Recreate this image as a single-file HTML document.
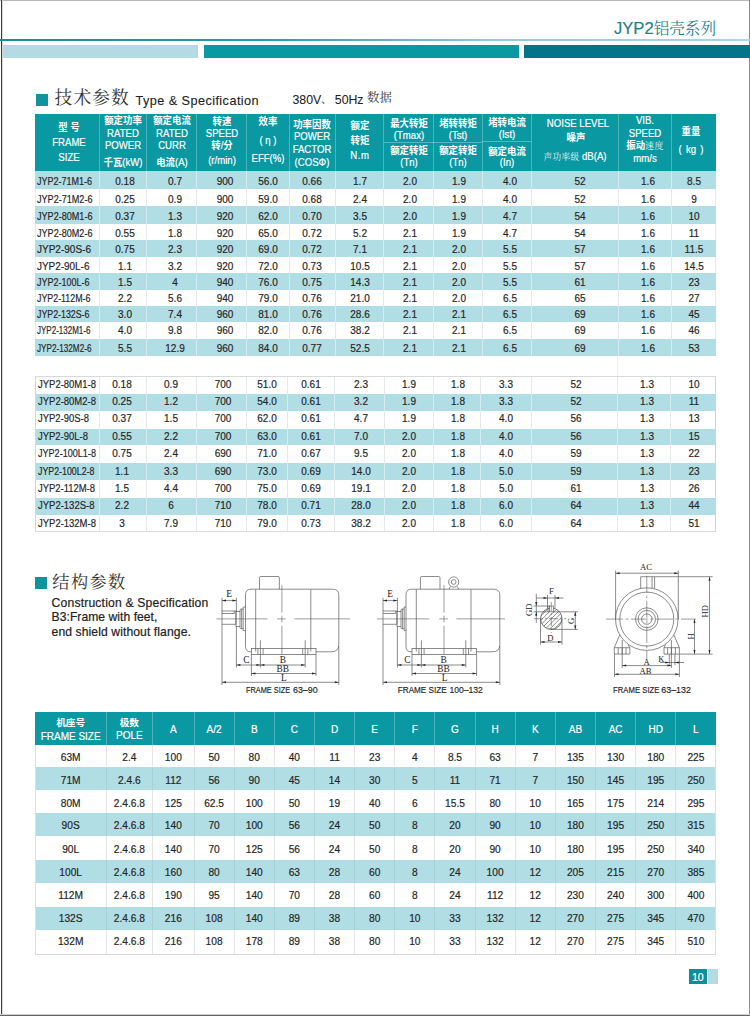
<!DOCTYPE html><html lang="zh"><head><meta charset="utf-8"><title>JYP2 Type &amp; Specification</title><style>
html,body{margin:0;padding:0;background:#fff}
body{width:750px;height:1016px;position:relative;overflow:hidden;font-family:"Liberation Sans",sans-serif}
.a{position:absolute}
.t{text-align:center;white-space:nowrap;-webkit-text-stroke:.18px currentColor}
.l{white-space:nowrap;-webkit-text-stroke:.18px currentColor}
.cr{font-family:"Liberation Serif","Noto Serif CJK SC",serif;font-weight:normal;white-space:nowrap;-webkit-text-stroke:0}
.cb{font-family:"Liberation Sans","Noto Sans CJK SC",sans-serif;font-weight:bold;font-size:10px;white-space:nowrap;-webkit-text-stroke:0}
.dg{fill:none;stroke:#5a5a5a;stroke-width:.7}
.dg .c{stroke-width:.6}
.dg .d{stroke-width:.6;stroke-dasharray:17 2.5 3 2.5}
.dg .d2{stroke-width:.6;stroke-dasharray:9 2 2 2}
.dg .f{fill:#262626;stroke:none}
.dg text{stroke:none;fill:#222}
.dg .se{font-family:"Liberation Serif",serif}
.dg .sa{font-family:"Liberation Sans",sans-serif;fill:#222;stroke:#222;stroke-width:.15}
</style></head><body>
<div class="a" style="left:0px;top:0px;width:750px;height:1px;background:#b8b8b8;"></div>
<div class="a" style="left:1px;top:0px;width:1px;height:1016px;background:#3c3c3c;"></div>
<div class="a" style="left:2px;top:0px;width:1px;height:1016px;background:#d9d9d9;"></div>
<div class="a" style="left:749px;top:0px;width:1px;height:1016px;background:#8a8a8a;"></div>
<div class="a" style="left:0px;top:1015px;width:750px;height:1px;background:#666;"></div>
<div class="a" style="left:0px;top:1014px;width:750px;height:1px;background:#d0d0d0;"></div>
<div class="a" style="left:0px;top:39px;width:750px;height:2px;background:linear-gradient(90deg,#178e9a 0%,#2a9aa5 35%,#8fcbd3 65%,#aad8de 100%);"></div>
<div class="a" style="left:3px;top:45px;width:195px;height:13px;background:#b4dbe3;"></div>
<div class="a" style="left:204px;top:45px;width:315px;height:13px;background:#0a98a2;"></div>
<div class="a" style="left:524px;top:45px;width:226px;height:13px;background:#05738a;"></div>
<div class="a l" style="left:614px;top:17.86px;height:22px;line-height:22px;font-size:16.6px;color:#1d7f8c">JYP2<span class="cr" style="font-size:15.6px;color:#1d7f8c">铝壳系列</span></div>
<div class="a" style="left:35.7px;top:94.2px;width:12px;height:11.4px;background:#0f949e;"></div>
<div class="a" style="left:54.6px;top:89.7px"><span class="cr" style="display:block;font-size:17.7px;line-height:17.7px;letter-spacing:1.1px;color:#333">技术参数</span></div>
<div class="a l " style="left:135.50px;top:93.07px;height:17px;line-height:17px;font-size:12.7px;color:#222;letter-spacing:.43px;-webkit-text-stroke:.1px #222">Type &amp; Specification</div>
<div class="a l " style="left:292.50px;top:92.17px;height:16px;line-height:16px;font-size:12.3px;color:#222;-webkit-text-stroke:.06px #222">380V</div>
<div class="a" style="left:321.2px;top:94.5px"><span class="cr" style="display:block;font-size:10px;line-height:10px;color:#222">、</span></div>
<div class="a l " style="left:334.80px;top:92.17px;height:16px;line-height:16px;font-size:12.3px;color:#222;-webkit-text-stroke:.06px #222">50Hz</div>
<div class="a" style="left:367.1px;top:92.3px"><span class="cr" style="display:block;font-size:12.4px;line-height:12.4px;color:#3a3a3a">数据</span></div>
<div class="a" style="left:35.1px;top:114.3px;width:680.8px;height:56.7px;background:#0a98a2;"></div>
<div class="a" style="left:98.8px;top:114.3px;width:1px;height:56.7px;background:rgba(255,255,255,.28);"></div>
<div class="a" style="left:146.1px;top:114.3px;width:1px;height:56.7px;background:rgba(255,255,255,.28);"></div>
<div class="a" style="left:196.2px;top:114.3px;width:1px;height:56.7px;background:rgba(255,255,255,.28);"></div>
<div class="a" style="left:246.4px;top:114.3px;width:1px;height:56.7px;background:rgba(255,255,255,.28);"></div>
<div class="a" style="left:288.8px;top:114.3px;width:1px;height:56.7px;background:rgba(255,255,255,.28);"></div>
<div class="a" style="left:334.9px;top:114.3px;width:1px;height:56.7px;background:rgba(255,255,255,.28);"></div>
<div class="a" style="left:383.3px;top:114.3px;width:1px;height:56.7px;background:rgba(255,255,255,.28);"></div>
<div class="a" style="left:432.8px;top:114.3px;width:1px;height:56.7px;background:rgba(255,255,255,.28);"></div>
<div class="a" style="left:481.5px;top:114.3px;width:1px;height:56.7px;background:rgba(255,255,255,.28);"></div>
<div class="a" style="left:530.9px;top:114.3px;width:1px;height:56.7px;background:rgba(255,255,255,.28);"></div>
<div class="a" style="left:617.7px;top:114.3px;width:1px;height:56.7px;background:rgba(255,255,255,.28);"></div>
<div class="a" style="left:670.5px;top:114.3px;width:1px;height:56.7px;background:rgba(255,255,255,.28);"></div>
<div class="a" style="left:383.8px;top:142px;width:98.19999999999999px;height:1px;background:rgba(255,255,255,.30);"></div>
<div class="a" style="left:482px;top:141px;width:49.39999999999998px;height:1px;background:rgba(255,255,255,.30);"></div>
<div class="a t " style="left:8.70px;top:121.47px;width:120px;height:13px;line-height:13px;font-size:10.2px;color:#fff;transform:scaleX(0.94);"><span class="cb">型 号</span></div>
<div class="a t " style="left:8.50px;top:136.07px;width:120px;height:13px;line-height:13px;font-size:10.2px;color:#fff;transform:scaleX(0.94);">FRAME</div>
<div class="a t " style="left:8.50px;top:151.07px;width:120px;height:13px;line-height:13px;font-size:10.2px;color:#fff;transform:scaleX(0.94);">SIZE</div>
<div class="a t " style="left:62.95px;top:114.27px;width:120px;height:13px;line-height:13px;font-size:10.2px;color:#fff;transform:scaleX(0.94);"><span class="cb">额定功率</span></div>
<div class="a t " style="left:62.95px;top:126.57px;width:120px;height:13px;line-height:13px;font-size:10.2px;color:#fff;transform:scaleX(0.94);">RATED</div>
<div class="a t " style="left:62.95px;top:138.97px;width:120px;height:13px;line-height:13px;font-size:10.2px;color:#fff;transform:scaleX(0.94);">POWER</div>
<div class="a t " style="left:62.95px;top:155.67px;width:120px;height:13px;line-height:13px;font-size:10.2px;color:#fff;transform:scaleX(0.94);"><span class="cb">千瓦</span>(kW)</div>
<div class="a t " style="left:111.65px;top:114.27px;width:120px;height:13px;line-height:13px;font-size:10.2px;color:#fff;transform:scaleX(0.94);"><span class="cb">额定电流</span></div>
<div class="a t " style="left:111.65px;top:126.57px;width:120px;height:13px;line-height:13px;font-size:10.2px;color:#fff;transform:scaleX(0.94);">RATED</div>
<div class="a t " style="left:111.65px;top:138.97px;width:120px;height:13px;line-height:13px;font-size:10.2px;color:#fff;transform:scaleX(0.94);">CURR</div>
<div class="a t " style="left:111.65px;top:155.67px;width:120px;height:13px;line-height:13px;font-size:10.2px;color:#fff;transform:scaleX(0.94);"><span class="cb">电流</span>(A)</div>
<div class="a t " style="left:161.80px;top:114.77px;width:120px;height:13px;line-height:13px;font-size:10.2px;color:#fff;transform:scaleX(0.94);"><span class="cb">转速</span></div>
<div class="a t " style="left:161.80px;top:126.97px;width:120px;height:13px;line-height:13px;font-size:10.2px;color:#fff;transform:scaleX(0.94);">SPEED</div>
<div class="a t " style="left:161.80px;top:139.07px;width:120px;height:13px;line-height:13px;font-size:10.2px;color:#fff;transform:scaleX(0.94);"><span class="cb">转</span>/<span class="cb">分</span></div>
<div class="a t " style="left:161.80px;top:154.27px;width:120px;height:13px;line-height:13px;font-size:10.2px;color:#fff;transform:scaleX(0.94);">(r/min)</div>
<div class="a t " style="left:208.10px;top:115.47px;width:120px;height:13px;line-height:13px;font-size:10.2px;color:#fff;transform:scaleX(0.94);"><span class="cb">效率</span></div>
<div class="a t " style="left:208.10px;top:134.27px;width:120px;height:13px;line-height:13px;font-size:10.2px;color:#fff;transform:scaleX(0.94);">( &eta; )</div>
<div class="a t " style="left:208.10px;top:152.27px;width:120px;height:13px;line-height:13px;font-size:10.2px;color:#fff;transform:scaleX(0.94);">EFF(%)</div>
<div class="a t " style="left:252.35px;top:118.07px;width:120px;height:13px;line-height:13px;font-size:10.2px;color:#fff;transform:scaleX(0.94);"><span class="cb">功率因数</span></div>
<div class="a t " style="left:252.35px;top:130.27px;width:120px;height:13px;line-height:13px;font-size:10.2px;color:#fff;transform:scaleX(0.94);">POWER</div>
<div class="a t " style="left:252.35px;top:142.97px;width:120px;height:13px;line-height:13px;font-size:10.2px;color:#fff;transform:scaleX(0.94);">FACTOR</div>
<div class="a t " style="left:252.35px;top:155.67px;width:120px;height:13px;line-height:13px;font-size:10.2px;color:#fff;transform:scaleX(0.94);">(COS&Phi;)</div>
<div class="a t " style="left:299.60px;top:119.47px;width:120px;height:13px;line-height:13px;font-size:10.2px;color:#fff;transform:scaleX(0.94);"><span class="cb">额定</span></div>
<div class="a t " style="left:299.60px;top:134.27px;width:120px;height:13px;line-height:13px;font-size:10.2px;color:#fff;transform:scaleX(0.94);"><span class="cb">转矩</span></div>
<div class="a t " style="left:299.60px;top:148.87px;width:120px;height:13px;line-height:13px;font-size:10.2px;color:#fff;transform:scaleX(0.94);letter-spacing:.6px">N.m</div>
<div class="a t " style="left:348.55px;top:116.67px;width:120px;height:13px;line-height:13px;font-size:10.2px;color:#fff;transform:scaleX(0.94);"><span class="cb">最大转矩</span></div>
<div class="a t " style="left:348.55px;top:129.47px;width:120px;height:13px;line-height:13px;font-size:10.2px;color:#fff;transform:scaleX(0.94);">(Tmax)</div>
<div class="a t " style="left:348.55px;top:143.67px;width:120px;height:13px;line-height:13px;font-size:10.2px;color:#fff;transform:scaleX(0.94);"><span class="cb">额定转矩</span></div>
<div class="a t " style="left:348.55px;top:155.77px;width:120px;height:13px;line-height:13px;font-size:10.2px;color:#fff;transform:scaleX(0.94);">(Tn)</div>
<div class="a t " style="left:397.65px;top:116.67px;width:120px;height:13px;line-height:13px;font-size:10.2px;color:#fff;transform:scaleX(0.94);"><span class="cb">堵转转矩</span></div>
<div class="a t " style="left:397.65px;top:129.47px;width:120px;height:13px;line-height:13px;font-size:10.2px;color:#fff;transform:scaleX(0.94);">(Tst)</div>
<div class="a t " style="left:397.65px;top:143.67px;width:120px;height:13px;line-height:13px;font-size:10.2px;color:#fff;transform:scaleX(0.94);"><span class="cb">额定转矩</span></div>
<div class="a t " style="left:397.65px;top:155.77px;width:120px;height:13px;line-height:13px;font-size:10.2px;color:#fff;transform:scaleX(0.94);">(Tn)</div>
<div class="a t " style="left:446.70px;top:115.87px;width:120px;height:13px;line-height:13px;font-size:10.2px;color:#fff;transform:scaleX(0.94);"><span class="cb">堵转电流</span></div>
<div class="a t " style="left:446.70px;top:127.67px;width:120px;height:13px;line-height:13px;font-size:10.2px;color:#fff;transform:scaleX(0.94);">(Ist)</div>
<div class="a t " style="left:446.70px;top:144.87px;width:120px;height:13px;line-height:13px;font-size:10.2px;color:#fff;transform:scaleX(0.94);"><span class="cb">额定电流</span></div>
<div class="a t " style="left:446.70px;top:155.77px;width:120px;height:13px;line-height:13px;font-size:10.2px;color:#fff;transform:scaleX(0.94);">(In)</div>
<div class="a t " style="left:517.60px;top:117.37px;width:120px;height:13px;line-height:13px;font-size:10.2px;color:#fff;transform:scaleX(0.94);">NOISE LEVEL</div>
<div class="a t " style="left:516.40px;top:131.47px;width:120px;height:13px;line-height:13px;font-size:10.2px;color:#fff;transform:scaleX(0.94);"><span class="cb">噪声</span></div>
<div class="a t " style="left:514.80px;top:150.27px;width:120px;height:13px;line-height:13px;font-size:10.2px;color:#fff;transform:scaleX(0.94);"><span class="cr" style="font-size:9.2px;letter-spacing:.35px;color:#e4f4f6">声功率级</span> dB(A)</div>
<div class="a t " style="left:584.60px;top:114.27px;width:120px;height:13px;line-height:13px;font-size:10.2px;color:#fff;transform:scaleX(0.94);">VIB.</div>
<div class="a t " style="left:584.60px;top:126.87px;width:120px;height:13px;line-height:13px;font-size:10.2px;color:#fff;transform:scaleX(0.94);">SPEED</div>
<div class="a t " style="left:584.60px;top:139.47px;width:120px;height:13px;line-height:13px;font-size:10.2px;color:#fff;transform:scaleX(0.94);"><span class="cb">振动</span><span class="cr" style="font-size:9.5px;letter-spacing:.4px;color:#e8f6f7">速度</span></div>
<div class="a t " style="left:584.60px;top:152.37px;width:120px;height:13px;line-height:13px;font-size:10.2px;color:#fff;transform:scaleX(0.94);">mm/s</div>
<div class="a t " style="left:630.65px;top:125.27px;width:120px;height:13px;line-height:13px;font-size:10.2px;color:#fff;transform:scaleX(0.94);"><span class="cb">重量</span></div>
<div class="a t " style="left:630.65px;top:142.67px;width:120px;height:13px;line-height:13px;font-size:10.2px;color:#fff;transform:scaleX(0.94);word-spacing:1.7px">( kg )</div>
<div class="a" style="left:35.1px;top:171px;width:1px;height:184.5px;background:#e9ecec;"></div>
<div class="a" style="left:714.9px;top:171px;width:1px;height:184.5px;background:#e9ecec;"></div>
<div class="a" style="left:35.1px;top:171px;width:680.8px;height:17.5px;background:#b1dde5;"></div>
<div class="a" style="left:98.8px;top:171px;width:1px;height:17.5px;background:rgba(255,255,255,.45);"></div>
<div class="a" style="left:146.1px;top:171px;width:1px;height:17.5px;background:rgba(255,255,255,.45);"></div>
<div class="a" style="left:196.2px;top:171px;width:1px;height:17.5px;background:rgba(255,255,255,.45);"></div>
<div class="a" style="left:246.4px;top:171px;width:1px;height:17.5px;background:rgba(255,255,255,.45);"></div>
<div class="a" style="left:288.8px;top:171px;width:1px;height:17.5px;background:rgba(255,255,255,.45);"></div>
<div class="a" style="left:334.9px;top:171px;width:1px;height:17.5px;background:rgba(255,255,255,.45);"></div>
<div class="a" style="left:383.3px;top:171px;width:1px;height:17.5px;background:rgba(255,255,255,.45);"></div>
<div class="a" style="left:432.8px;top:171px;width:1px;height:17.5px;background:rgba(255,255,255,.45);"></div>
<div class="a" style="left:481.5px;top:171px;width:1px;height:17.5px;background:rgba(255,255,255,.45);"></div>
<div class="a" style="left:530.9px;top:171px;width:1px;height:17.5px;background:rgba(255,255,255,.45);"></div>
<div class="a" style="left:617.7px;top:171px;width:1px;height:17.5px;background:rgba(255,255,255,.45);"></div>
<div class="a" style="left:670.5px;top:171px;width:1px;height:17.5px;background:rgba(255,255,255,.45);"></div>
<div class="a l " style="left:37.20px;top:174.57px;height:14px;line-height:14px;font-size:10.4px;color:#262626;transform:scaleX(0.8650);transform-origin:0 50%;">JYP2-71M1-6</div>
<div class="a t " style="left:94.50px;top:174.57px;width:60px;height:14px;line-height:14px;font-size:10.4px;color:#262626;transform:scaleX(0.965);">0.18</div>
<div class="a t " style="left:145.20px;top:174.57px;width:60px;height:14px;line-height:14px;font-size:10.4px;color:#262626;transform:scaleX(0.965);">0.7</div>
<div class="a t " style="left:194.80px;top:174.57px;width:60px;height:14px;line-height:14px;font-size:10.4px;color:#262626;transform:scaleX(0.965);">900</div>
<div class="a t " style="left:238.40px;top:174.57px;width:60px;height:14px;line-height:14px;font-size:10.4px;color:#262626;transform:scaleX(0.965);">56.0</div>
<div class="a t " style="left:281.80px;top:174.57px;width:60px;height:14px;line-height:14px;font-size:10.4px;color:#262626;transform:scaleX(0.965);">0.66</div>
<div class="a t " style="left:329.90px;top:174.57px;width:60px;height:14px;line-height:14px;font-size:10.4px;color:#262626;transform:scaleX(0.965);">1.7</div>
<div class="a t " style="left:380.40px;top:174.57px;width:60px;height:14px;line-height:14px;font-size:10.4px;color:#262626;transform:scaleX(0.965);">2.0</div>
<div class="a t " style="left:429.30px;top:174.57px;width:60px;height:14px;line-height:14px;font-size:10.4px;color:#262626;transform:scaleX(0.965);">1.9</div>
<div class="a t " style="left:480.30px;top:174.57px;width:60px;height:14px;line-height:14px;font-size:10.4px;color:#262626;transform:scaleX(0.965);">4.0</div>
<div class="a t " style="left:549.70px;top:174.57px;width:60px;height:14px;line-height:14px;font-size:10.4px;color:#262626;transform:scaleX(0.965);">52</div>
<div class="a t " style="left:618.40px;top:174.57px;width:60px;height:14px;line-height:14px;font-size:10.4px;color:#262626;transform:scaleX(0.965);">1.6</div>
<div class="a t " style="left:663.90px;top:174.57px;width:60px;height:14px;line-height:14px;font-size:10.4px;color:#262626;transform:scaleX(0.965);">8.5</div>
<div class="a" style="left:98.8px;top:188.5px;width:1px;height:17.5px;background:#e4e9ea;"></div>
<div class="a" style="left:146.1px;top:188.5px;width:1px;height:17.5px;background:#e4e9ea;"></div>
<div class="a" style="left:196.2px;top:188.5px;width:1px;height:17.5px;background:#e4e9ea;"></div>
<div class="a" style="left:246.4px;top:188.5px;width:1px;height:17.5px;background:#e4e9ea;"></div>
<div class="a" style="left:288.8px;top:188.5px;width:1px;height:17.5px;background:#e4e9ea;"></div>
<div class="a" style="left:334.9px;top:188.5px;width:1px;height:17.5px;background:#e4e9ea;"></div>
<div class="a" style="left:383.3px;top:188.5px;width:1px;height:17.5px;background:#e4e9ea;"></div>
<div class="a" style="left:432.8px;top:188.5px;width:1px;height:17.5px;background:#e4e9ea;"></div>
<div class="a" style="left:481.5px;top:188.5px;width:1px;height:17.5px;background:#e4e9ea;"></div>
<div class="a" style="left:530.9px;top:188.5px;width:1px;height:17.5px;background:#e4e9ea;"></div>
<div class="a" style="left:617.7px;top:188.5px;width:1px;height:17.5px;background:#e4e9ea;"></div>
<div class="a" style="left:670.5px;top:188.5px;width:1px;height:17.5px;background:#e4e9ea;"></div>
<div class="a l " style="left:37.20px;top:192.57px;height:14px;line-height:14px;font-size:10.4px;color:#262626;transform:scaleX(0.8728);transform-origin:0 50%;">JYP2-71M2-6</div>
<div class="a t " style="left:94.50px;top:192.57px;width:60px;height:14px;line-height:14px;font-size:10.4px;color:#262626;transform:scaleX(0.965);">0.25</div>
<div class="a t " style="left:145.20px;top:192.57px;width:60px;height:14px;line-height:14px;font-size:10.4px;color:#262626;transform:scaleX(0.965);">0.9</div>
<div class="a t " style="left:194.80px;top:192.57px;width:60px;height:14px;line-height:14px;font-size:10.4px;color:#262626;transform:scaleX(0.965);">900</div>
<div class="a t " style="left:238.40px;top:192.57px;width:60px;height:14px;line-height:14px;font-size:10.4px;color:#262626;transform:scaleX(0.965);">59.0</div>
<div class="a t " style="left:281.80px;top:192.57px;width:60px;height:14px;line-height:14px;font-size:10.4px;color:#262626;transform:scaleX(0.965);">0.68</div>
<div class="a t " style="left:329.90px;top:192.57px;width:60px;height:14px;line-height:14px;font-size:10.4px;color:#262626;transform:scaleX(0.965);">2.4</div>
<div class="a t " style="left:380.40px;top:192.57px;width:60px;height:14px;line-height:14px;font-size:10.4px;color:#262626;transform:scaleX(0.965);">2.0</div>
<div class="a t " style="left:429.30px;top:192.57px;width:60px;height:14px;line-height:14px;font-size:10.4px;color:#262626;transform:scaleX(0.965);">1.9</div>
<div class="a t " style="left:480.30px;top:192.57px;width:60px;height:14px;line-height:14px;font-size:10.4px;color:#262626;transform:scaleX(0.965);">4.0</div>
<div class="a t " style="left:549.70px;top:192.57px;width:60px;height:14px;line-height:14px;font-size:10.4px;color:#262626;transform:scaleX(0.965);">52</div>
<div class="a t " style="left:618.40px;top:192.57px;width:60px;height:14px;line-height:14px;font-size:10.4px;color:#262626;transform:scaleX(0.965);">1.6</div>
<div class="a t " style="left:663.90px;top:192.57px;width:60px;height:14px;line-height:14px;font-size:10.4px;color:#262626;transform:scaleX(0.965);">9</div>
<div class="a" style="left:35.1px;top:206px;width:680.8px;height:17.5px;background:#b1dde5;"></div>
<div class="a" style="left:98.8px;top:206px;width:1px;height:17.5px;background:rgba(255,255,255,.45);"></div>
<div class="a" style="left:146.1px;top:206px;width:1px;height:17.5px;background:rgba(255,255,255,.45);"></div>
<div class="a" style="left:196.2px;top:206px;width:1px;height:17.5px;background:rgba(255,255,255,.45);"></div>
<div class="a" style="left:246.4px;top:206px;width:1px;height:17.5px;background:rgba(255,255,255,.45);"></div>
<div class="a" style="left:288.8px;top:206px;width:1px;height:17.5px;background:rgba(255,255,255,.45);"></div>
<div class="a" style="left:334.9px;top:206px;width:1px;height:17.5px;background:rgba(255,255,255,.45);"></div>
<div class="a" style="left:383.3px;top:206px;width:1px;height:17.5px;background:rgba(255,255,255,.45);"></div>
<div class="a" style="left:432.8px;top:206px;width:1px;height:17.5px;background:rgba(255,255,255,.45);"></div>
<div class="a" style="left:481.5px;top:206px;width:1px;height:17.5px;background:rgba(255,255,255,.45);"></div>
<div class="a" style="left:530.9px;top:206px;width:1px;height:17.5px;background:rgba(255,255,255,.45);"></div>
<div class="a" style="left:617.7px;top:206px;width:1px;height:17.5px;background:rgba(255,255,255,.45);"></div>
<div class="a" style="left:670.5px;top:206px;width:1px;height:17.5px;background:rgba(255,255,255,.45);"></div>
<div class="a l " style="left:37.20px;top:209.57px;height:14px;line-height:14px;font-size:10.4px;color:#262626;transform:scaleX(0.8728);transform-origin:0 50%;">JYP2-80M1-6</div>
<div class="a t " style="left:94.50px;top:209.57px;width:60px;height:14px;line-height:14px;font-size:10.4px;color:#262626;transform:scaleX(0.965);">0.37</div>
<div class="a t " style="left:145.20px;top:209.57px;width:60px;height:14px;line-height:14px;font-size:10.4px;color:#262626;transform:scaleX(0.965);">1.3</div>
<div class="a t " style="left:194.80px;top:209.57px;width:60px;height:14px;line-height:14px;font-size:10.4px;color:#262626;transform:scaleX(0.965);">920</div>
<div class="a t " style="left:238.40px;top:209.57px;width:60px;height:14px;line-height:14px;font-size:10.4px;color:#262626;transform:scaleX(0.965);">62.0</div>
<div class="a t " style="left:281.80px;top:209.57px;width:60px;height:14px;line-height:14px;font-size:10.4px;color:#262626;transform:scaleX(0.965);">0.70</div>
<div class="a t " style="left:329.90px;top:209.57px;width:60px;height:14px;line-height:14px;font-size:10.4px;color:#262626;transform:scaleX(0.965);">3.5</div>
<div class="a t " style="left:380.40px;top:209.57px;width:60px;height:14px;line-height:14px;font-size:10.4px;color:#262626;transform:scaleX(0.965);">2.0</div>
<div class="a t " style="left:429.30px;top:209.57px;width:60px;height:14px;line-height:14px;font-size:10.4px;color:#262626;transform:scaleX(0.965);">1.9</div>
<div class="a t " style="left:480.30px;top:209.57px;width:60px;height:14px;line-height:14px;font-size:10.4px;color:#262626;transform:scaleX(0.965);">4.7</div>
<div class="a t " style="left:549.70px;top:209.57px;width:60px;height:14px;line-height:14px;font-size:10.4px;color:#262626;transform:scaleX(0.965);">54</div>
<div class="a t " style="left:618.40px;top:209.57px;width:60px;height:14px;line-height:14px;font-size:10.4px;color:#262626;transform:scaleX(0.965);">1.6</div>
<div class="a t " style="left:663.90px;top:209.57px;width:60px;height:14px;line-height:14px;font-size:10.4px;color:#262626;transform:scaleX(0.965);">10</div>
<div class="a" style="left:98.8px;top:223.5px;width:1px;height:16.5px;background:#e4e9ea;"></div>
<div class="a" style="left:146.1px;top:223.5px;width:1px;height:16.5px;background:#e4e9ea;"></div>
<div class="a" style="left:196.2px;top:223.5px;width:1px;height:16.5px;background:#e4e9ea;"></div>
<div class="a" style="left:246.4px;top:223.5px;width:1px;height:16.5px;background:#e4e9ea;"></div>
<div class="a" style="left:288.8px;top:223.5px;width:1px;height:16.5px;background:#e4e9ea;"></div>
<div class="a" style="left:334.9px;top:223.5px;width:1px;height:16.5px;background:#e4e9ea;"></div>
<div class="a" style="left:383.3px;top:223.5px;width:1px;height:16.5px;background:#e4e9ea;"></div>
<div class="a" style="left:432.8px;top:223.5px;width:1px;height:16.5px;background:#e4e9ea;"></div>
<div class="a" style="left:481.5px;top:223.5px;width:1px;height:16.5px;background:#e4e9ea;"></div>
<div class="a" style="left:530.9px;top:223.5px;width:1px;height:16.5px;background:#e4e9ea;"></div>
<div class="a" style="left:617.7px;top:223.5px;width:1px;height:16.5px;background:#e4e9ea;"></div>
<div class="a" style="left:670.5px;top:223.5px;width:1px;height:16.5px;background:#e4e9ea;"></div>
<div class="a l " style="left:37.20px;top:226.57px;height:14px;line-height:14px;font-size:10.4px;color:#262626;transform:scaleX(0.8728);transform-origin:0 50%;">JYP2-80M2-6</div>
<div class="a t " style="left:94.50px;top:226.57px;width:60px;height:14px;line-height:14px;font-size:10.4px;color:#262626;transform:scaleX(0.965);">0.55</div>
<div class="a t " style="left:145.20px;top:226.57px;width:60px;height:14px;line-height:14px;font-size:10.4px;color:#262626;transform:scaleX(0.965);">1.8</div>
<div class="a t " style="left:194.80px;top:226.57px;width:60px;height:14px;line-height:14px;font-size:10.4px;color:#262626;transform:scaleX(0.965);">920</div>
<div class="a t " style="left:238.40px;top:226.57px;width:60px;height:14px;line-height:14px;font-size:10.4px;color:#262626;transform:scaleX(0.965);">65.0</div>
<div class="a t " style="left:281.80px;top:226.57px;width:60px;height:14px;line-height:14px;font-size:10.4px;color:#262626;transform:scaleX(0.965);">0.72</div>
<div class="a t " style="left:329.90px;top:226.57px;width:60px;height:14px;line-height:14px;font-size:10.4px;color:#262626;transform:scaleX(0.965);">5.2</div>
<div class="a t " style="left:380.40px;top:226.57px;width:60px;height:14px;line-height:14px;font-size:10.4px;color:#262626;transform:scaleX(0.965);">2.1</div>
<div class="a t " style="left:429.30px;top:226.57px;width:60px;height:14px;line-height:14px;font-size:10.4px;color:#262626;transform:scaleX(0.965);">1.9</div>
<div class="a t " style="left:480.30px;top:226.57px;width:60px;height:14px;line-height:14px;font-size:10.4px;color:#262626;transform:scaleX(0.965);">4.7</div>
<div class="a t " style="left:549.70px;top:226.57px;width:60px;height:14px;line-height:14px;font-size:10.4px;color:#262626;transform:scaleX(0.965);">54</div>
<div class="a t " style="left:618.40px;top:226.57px;width:60px;height:14px;line-height:14px;font-size:10.4px;color:#262626;transform:scaleX(0.965);">1.6</div>
<div class="a t " style="left:663.90px;top:226.57px;width:60px;height:14px;line-height:14px;font-size:10.4px;color:#262626;transform:scaleX(0.965);">11</div>
<div class="a" style="left:35.1px;top:240px;width:680.8px;height:16.5px;background:#b1dde5;"></div>
<div class="a" style="left:98.8px;top:240px;width:1px;height:16.5px;background:rgba(255,255,255,.45);"></div>
<div class="a" style="left:146.1px;top:240px;width:1px;height:16.5px;background:rgba(255,255,255,.45);"></div>
<div class="a" style="left:196.2px;top:240px;width:1px;height:16.5px;background:rgba(255,255,255,.45);"></div>
<div class="a" style="left:246.4px;top:240px;width:1px;height:16.5px;background:rgba(255,255,255,.45);"></div>
<div class="a" style="left:288.8px;top:240px;width:1px;height:16.5px;background:rgba(255,255,255,.45);"></div>
<div class="a" style="left:334.9px;top:240px;width:1px;height:16.5px;background:rgba(255,255,255,.45);"></div>
<div class="a" style="left:383.3px;top:240px;width:1px;height:16.5px;background:rgba(255,255,255,.45);"></div>
<div class="a" style="left:432.8px;top:240px;width:1px;height:16.5px;background:rgba(255,255,255,.45);"></div>
<div class="a" style="left:481.5px;top:240px;width:1px;height:16.5px;background:rgba(255,255,255,.45);"></div>
<div class="a" style="left:530.9px;top:240px;width:1px;height:16.5px;background:rgba(255,255,255,.45);"></div>
<div class="a" style="left:617.7px;top:240px;width:1px;height:16.5px;background:rgba(255,255,255,.45);"></div>
<div class="a" style="left:670.5px;top:240px;width:1px;height:16.5px;background:rgba(255,255,255,.45);"></div>
<div class="a l " style="left:37.20px;top:242.57px;height:14px;line-height:14px;font-size:10.4px;color:#262626;transform:scaleX(0.9630);transform-origin:0 50%;">JYP2-90S-6</div>
<div class="a t " style="left:94.50px;top:242.57px;width:60px;height:14px;line-height:14px;font-size:10.4px;color:#262626;transform:scaleX(0.965);">0.75</div>
<div class="a t " style="left:145.20px;top:242.57px;width:60px;height:14px;line-height:14px;font-size:10.4px;color:#262626;transform:scaleX(0.965);">2.3</div>
<div class="a t " style="left:194.80px;top:242.57px;width:60px;height:14px;line-height:14px;font-size:10.4px;color:#262626;transform:scaleX(0.965);">920</div>
<div class="a t " style="left:238.40px;top:242.57px;width:60px;height:14px;line-height:14px;font-size:10.4px;color:#262626;transform:scaleX(0.965);">69.0</div>
<div class="a t " style="left:281.80px;top:242.57px;width:60px;height:14px;line-height:14px;font-size:10.4px;color:#262626;transform:scaleX(0.965);">0.72</div>
<div class="a t " style="left:329.90px;top:242.57px;width:60px;height:14px;line-height:14px;font-size:10.4px;color:#262626;transform:scaleX(0.965);">7.1</div>
<div class="a t " style="left:380.40px;top:242.57px;width:60px;height:14px;line-height:14px;font-size:10.4px;color:#262626;transform:scaleX(0.965);">2.1</div>
<div class="a t " style="left:429.30px;top:242.57px;width:60px;height:14px;line-height:14px;font-size:10.4px;color:#262626;transform:scaleX(0.965);">2.0</div>
<div class="a t " style="left:480.30px;top:242.57px;width:60px;height:14px;line-height:14px;font-size:10.4px;color:#262626;transform:scaleX(0.965);">5.5</div>
<div class="a t " style="left:549.70px;top:242.57px;width:60px;height:14px;line-height:14px;font-size:10.4px;color:#262626;transform:scaleX(0.965);">57</div>
<div class="a t " style="left:618.40px;top:242.57px;width:60px;height:14px;line-height:14px;font-size:10.4px;color:#262626;transform:scaleX(0.965);">1.6</div>
<div class="a t " style="left:663.90px;top:242.57px;width:60px;height:14px;line-height:14px;font-size:10.4px;color:#262626;transform:scaleX(0.965);">11.5</div>
<div class="a" style="left:98.8px;top:256.5px;width:1px;height:16.5px;background:#e4e9ea;"></div>
<div class="a" style="left:146.1px;top:256.5px;width:1px;height:16.5px;background:#e4e9ea;"></div>
<div class="a" style="left:196.2px;top:256.5px;width:1px;height:16.5px;background:#e4e9ea;"></div>
<div class="a" style="left:246.4px;top:256.5px;width:1px;height:16.5px;background:#e4e9ea;"></div>
<div class="a" style="left:288.8px;top:256.5px;width:1px;height:16.5px;background:#e4e9ea;"></div>
<div class="a" style="left:334.9px;top:256.5px;width:1px;height:16.5px;background:#e4e9ea;"></div>
<div class="a" style="left:383.3px;top:256.5px;width:1px;height:16.5px;background:#e4e9ea;"></div>
<div class="a" style="left:432.8px;top:256.5px;width:1px;height:16.5px;background:#e4e9ea;"></div>
<div class="a" style="left:481.5px;top:256.5px;width:1px;height:16.5px;background:#e4e9ea;"></div>
<div class="a" style="left:530.9px;top:256.5px;width:1px;height:16.5px;background:#e4e9ea;"></div>
<div class="a" style="left:617.7px;top:256.5px;width:1px;height:16.5px;background:#e4e9ea;"></div>
<div class="a" style="left:670.5px;top:256.5px;width:1px;height:16.5px;background:#e4e9ea;"></div>
<div class="a l " style="left:37.20px;top:260.07px;height:14px;line-height:14px;font-size:10.4px;color:#262626;transform:scaleX(0.9559);transform-origin:0 50%;">JYP2-90L-6</div>
<div class="a t " style="left:94.50px;top:260.07px;width:60px;height:14px;line-height:14px;font-size:10.4px;color:#262626;transform:scaleX(0.965);">1.1</div>
<div class="a t " style="left:145.20px;top:260.07px;width:60px;height:14px;line-height:14px;font-size:10.4px;color:#262626;transform:scaleX(0.965);">3.2</div>
<div class="a t " style="left:194.80px;top:260.07px;width:60px;height:14px;line-height:14px;font-size:10.4px;color:#262626;transform:scaleX(0.965);">920</div>
<div class="a t " style="left:238.40px;top:260.07px;width:60px;height:14px;line-height:14px;font-size:10.4px;color:#262626;transform:scaleX(0.965);">72.0</div>
<div class="a t " style="left:281.80px;top:260.07px;width:60px;height:14px;line-height:14px;font-size:10.4px;color:#262626;transform:scaleX(0.965);">0.73</div>
<div class="a t " style="left:329.90px;top:260.07px;width:60px;height:14px;line-height:14px;font-size:10.4px;color:#262626;transform:scaleX(0.965);">10.5</div>
<div class="a t " style="left:380.40px;top:260.07px;width:60px;height:14px;line-height:14px;font-size:10.4px;color:#262626;transform:scaleX(0.965);">2.1</div>
<div class="a t " style="left:429.30px;top:260.07px;width:60px;height:14px;line-height:14px;font-size:10.4px;color:#262626;transform:scaleX(0.965);">2.0</div>
<div class="a t " style="left:480.30px;top:260.07px;width:60px;height:14px;line-height:14px;font-size:10.4px;color:#262626;transform:scaleX(0.965);">5.5</div>
<div class="a t " style="left:549.70px;top:260.07px;width:60px;height:14px;line-height:14px;font-size:10.4px;color:#262626;transform:scaleX(0.965);">57</div>
<div class="a t " style="left:618.40px;top:260.07px;width:60px;height:14px;line-height:14px;font-size:10.4px;color:#262626;transform:scaleX(0.965);">1.6</div>
<div class="a t " style="left:663.90px;top:260.07px;width:60px;height:14px;line-height:14px;font-size:10.4px;color:#262626;transform:scaleX(0.965);">14.5</div>
<div class="a" style="left:35.1px;top:273px;width:680.8px;height:16.5px;background:#b1dde5;"></div>
<div class="a" style="left:98.8px;top:273px;width:1px;height:16.5px;background:rgba(255,255,255,.45);"></div>
<div class="a" style="left:146.1px;top:273px;width:1px;height:16.5px;background:rgba(255,255,255,.45);"></div>
<div class="a" style="left:196.2px;top:273px;width:1px;height:16.5px;background:rgba(255,255,255,.45);"></div>
<div class="a" style="left:246.4px;top:273px;width:1px;height:16.5px;background:rgba(255,255,255,.45);"></div>
<div class="a" style="left:288.8px;top:273px;width:1px;height:16.5px;background:rgba(255,255,255,.45);"></div>
<div class="a" style="left:334.9px;top:273px;width:1px;height:16.5px;background:rgba(255,255,255,.45);"></div>
<div class="a" style="left:383.3px;top:273px;width:1px;height:16.5px;background:rgba(255,255,255,.45);"></div>
<div class="a" style="left:432.8px;top:273px;width:1px;height:16.5px;background:rgba(255,255,255,.45);"></div>
<div class="a" style="left:481.5px;top:273px;width:1px;height:16.5px;background:rgba(255,255,255,.45);"></div>
<div class="a" style="left:530.9px;top:273px;width:1px;height:16.5px;background:rgba(255,255,255,.45);"></div>
<div class="a" style="left:617.7px;top:273px;width:1px;height:16.5px;background:rgba(255,255,255,.45);"></div>
<div class="a" style="left:670.5px;top:273px;width:1px;height:16.5px;background:rgba(255,255,255,.45);"></div>
<div class="a l " style="left:37.20px;top:275.87px;height:14px;line-height:14px;font-size:10.4px;color:#262626;transform:scaleX(0.8648);transform-origin:0 50%;">JYP2-100L-6</div>
<div class="a t " style="left:94.50px;top:275.87px;width:60px;height:14px;line-height:14px;font-size:10.4px;color:#262626;transform:scaleX(0.965);">1.5</div>
<div class="a t " style="left:145.20px;top:275.87px;width:60px;height:14px;line-height:14px;font-size:10.4px;color:#262626;transform:scaleX(0.965);">4</div>
<div class="a t " style="left:194.80px;top:275.87px;width:60px;height:14px;line-height:14px;font-size:10.4px;color:#262626;transform:scaleX(0.965);">940</div>
<div class="a t " style="left:238.40px;top:275.87px;width:60px;height:14px;line-height:14px;font-size:10.4px;color:#262626;transform:scaleX(0.965);">76.0</div>
<div class="a t " style="left:281.80px;top:275.87px;width:60px;height:14px;line-height:14px;font-size:10.4px;color:#262626;transform:scaleX(0.965);">0.75</div>
<div class="a t " style="left:329.90px;top:275.87px;width:60px;height:14px;line-height:14px;font-size:10.4px;color:#262626;transform:scaleX(0.965);">14.3</div>
<div class="a t " style="left:380.40px;top:275.87px;width:60px;height:14px;line-height:14px;font-size:10.4px;color:#262626;transform:scaleX(0.965);">2.1</div>
<div class="a t " style="left:429.30px;top:275.87px;width:60px;height:14px;line-height:14px;font-size:10.4px;color:#262626;transform:scaleX(0.965);">2.0</div>
<div class="a t " style="left:480.30px;top:275.87px;width:60px;height:14px;line-height:14px;font-size:10.4px;color:#262626;transform:scaleX(0.965);">5.5</div>
<div class="a t " style="left:549.70px;top:275.87px;width:60px;height:14px;line-height:14px;font-size:10.4px;color:#262626;transform:scaleX(0.965);">61</div>
<div class="a t " style="left:618.40px;top:275.87px;width:60px;height:14px;line-height:14px;font-size:10.4px;color:#262626;transform:scaleX(0.965);">1.6</div>
<div class="a t " style="left:663.90px;top:275.87px;width:60px;height:14px;line-height:14px;font-size:10.4px;color:#262626;transform:scaleX(0.965);">23</div>
<div class="a" style="left:98.8px;top:289.5px;width:1px;height:16.5px;background:#e4e9ea;"></div>
<div class="a" style="left:146.1px;top:289.5px;width:1px;height:16.5px;background:#e4e9ea;"></div>
<div class="a" style="left:196.2px;top:289.5px;width:1px;height:16.5px;background:#e4e9ea;"></div>
<div class="a" style="left:246.4px;top:289.5px;width:1px;height:16.5px;background:#e4e9ea;"></div>
<div class="a" style="left:288.8px;top:289.5px;width:1px;height:16.5px;background:#e4e9ea;"></div>
<div class="a" style="left:334.9px;top:289.5px;width:1px;height:16.5px;background:#e4e9ea;"></div>
<div class="a" style="left:383.3px;top:289.5px;width:1px;height:16.5px;background:#e4e9ea;"></div>
<div class="a" style="left:432.8px;top:289.5px;width:1px;height:16.5px;background:#e4e9ea;"></div>
<div class="a" style="left:481.5px;top:289.5px;width:1px;height:16.5px;background:#e4e9ea;"></div>
<div class="a" style="left:530.9px;top:289.5px;width:1px;height:16.5px;background:#e4e9ea;"></div>
<div class="a" style="left:617.7px;top:289.5px;width:1px;height:16.5px;background:#e4e9ea;"></div>
<div class="a" style="left:670.5px;top:289.5px;width:1px;height:16.5px;background:#e4e9ea;"></div>
<div class="a l " style="left:37.20px;top:292.07px;height:14px;line-height:14px;font-size:10.4px;color:#262626;transform:scaleX(0.8517);transform-origin:0 50%;">JYP2-112M-6</div>
<div class="a t " style="left:94.50px;top:292.07px;width:60px;height:14px;line-height:14px;font-size:10.4px;color:#262626;transform:scaleX(0.965);">2.2</div>
<div class="a t " style="left:145.20px;top:292.07px;width:60px;height:14px;line-height:14px;font-size:10.4px;color:#262626;transform:scaleX(0.965);">5.6</div>
<div class="a t " style="left:194.80px;top:292.07px;width:60px;height:14px;line-height:14px;font-size:10.4px;color:#262626;transform:scaleX(0.965);">940</div>
<div class="a t " style="left:238.40px;top:292.07px;width:60px;height:14px;line-height:14px;font-size:10.4px;color:#262626;transform:scaleX(0.965);">79.0</div>
<div class="a t " style="left:281.80px;top:292.07px;width:60px;height:14px;line-height:14px;font-size:10.4px;color:#262626;transform:scaleX(0.965);">0.76</div>
<div class="a t " style="left:329.90px;top:292.07px;width:60px;height:14px;line-height:14px;font-size:10.4px;color:#262626;transform:scaleX(0.965);">21.0</div>
<div class="a t " style="left:380.40px;top:292.07px;width:60px;height:14px;line-height:14px;font-size:10.4px;color:#262626;transform:scaleX(0.965);">2.1</div>
<div class="a t " style="left:429.30px;top:292.07px;width:60px;height:14px;line-height:14px;font-size:10.4px;color:#262626;transform:scaleX(0.965);">2.0</div>
<div class="a t " style="left:480.30px;top:292.07px;width:60px;height:14px;line-height:14px;font-size:10.4px;color:#262626;transform:scaleX(0.965);">6.5</div>
<div class="a t " style="left:549.70px;top:292.07px;width:60px;height:14px;line-height:14px;font-size:10.4px;color:#262626;transform:scaleX(0.965);">65</div>
<div class="a t " style="left:618.40px;top:292.07px;width:60px;height:14px;line-height:14px;font-size:10.4px;color:#262626;transform:scaleX(0.965);">1.6</div>
<div class="a t " style="left:663.90px;top:292.07px;width:60px;height:14px;line-height:14px;font-size:10.4px;color:#262626;transform:scaleX(0.965);">27</div>
<div class="a" style="left:35.1px;top:306px;width:680.8px;height:16px;background:#b1dde5;"></div>
<div class="a" style="left:98.8px;top:306px;width:1px;height:16px;background:rgba(255,255,255,.45);"></div>
<div class="a" style="left:146.1px;top:306px;width:1px;height:16px;background:rgba(255,255,255,.45);"></div>
<div class="a" style="left:196.2px;top:306px;width:1px;height:16px;background:rgba(255,255,255,.45);"></div>
<div class="a" style="left:246.4px;top:306px;width:1px;height:16px;background:rgba(255,255,255,.45);"></div>
<div class="a" style="left:288.8px;top:306px;width:1px;height:16px;background:rgba(255,255,255,.45);"></div>
<div class="a" style="left:334.9px;top:306px;width:1px;height:16px;background:rgba(255,255,255,.45);"></div>
<div class="a" style="left:383.3px;top:306px;width:1px;height:16px;background:rgba(255,255,255,.45);"></div>
<div class="a" style="left:432.8px;top:306px;width:1px;height:16px;background:rgba(255,255,255,.45);"></div>
<div class="a" style="left:481.5px;top:306px;width:1px;height:16px;background:rgba(255,255,255,.45);"></div>
<div class="a" style="left:530.9px;top:306px;width:1px;height:16px;background:rgba(255,255,255,.45);"></div>
<div class="a" style="left:617.7px;top:306px;width:1px;height:16px;background:rgba(255,255,255,.45);"></div>
<div class="a" style="left:670.5px;top:306px;width:1px;height:16px;background:rgba(255,255,255,.45);"></div>
<div class="a l " style="left:37.20px;top:308.07px;height:14px;line-height:14px;font-size:10.4px;color:#262626;transform:scaleX(0.8487);transform-origin:0 50%;">JYP2-132S-6</div>
<div class="a t " style="left:94.50px;top:308.07px;width:60px;height:14px;line-height:14px;font-size:10.4px;color:#262626;transform:scaleX(0.965);">3.0</div>
<div class="a t " style="left:145.20px;top:308.07px;width:60px;height:14px;line-height:14px;font-size:10.4px;color:#262626;transform:scaleX(0.965);">7.4</div>
<div class="a t " style="left:194.80px;top:308.07px;width:60px;height:14px;line-height:14px;font-size:10.4px;color:#262626;transform:scaleX(0.965);">960</div>
<div class="a t " style="left:238.40px;top:308.07px;width:60px;height:14px;line-height:14px;font-size:10.4px;color:#262626;transform:scaleX(0.965);">81.0</div>
<div class="a t " style="left:281.80px;top:308.07px;width:60px;height:14px;line-height:14px;font-size:10.4px;color:#262626;transform:scaleX(0.965);">0.76</div>
<div class="a t " style="left:329.90px;top:308.07px;width:60px;height:14px;line-height:14px;font-size:10.4px;color:#262626;transform:scaleX(0.965);">28.6</div>
<div class="a t " style="left:380.40px;top:308.07px;width:60px;height:14px;line-height:14px;font-size:10.4px;color:#262626;transform:scaleX(0.965);">2.1</div>
<div class="a t " style="left:429.30px;top:308.07px;width:60px;height:14px;line-height:14px;font-size:10.4px;color:#262626;transform:scaleX(0.965);">2.1</div>
<div class="a t " style="left:480.30px;top:308.07px;width:60px;height:14px;line-height:14px;font-size:10.4px;color:#262626;transform:scaleX(0.965);">6.5</div>
<div class="a t " style="left:549.70px;top:308.07px;width:60px;height:14px;line-height:14px;font-size:10.4px;color:#262626;transform:scaleX(0.965);">69</div>
<div class="a t " style="left:618.40px;top:308.07px;width:60px;height:14px;line-height:14px;font-size:10.4px;color:#262626;transform:scaleX(0.965);">1.6</div>
<div class="a t " style="left:663.90px;top:308.07px;width:60px;height:14px;line-height:14px;font-size:10.4px;color:#262626;transform:scaleX(0.965);">45</div>
<div class="a" style="left:98.8px;top:322px;width:1px;height:16.5px;background:#e4e9ea;"></div>
<div class="a" style="left:146.1px;top:322px;width:1px;height:16.5px;background:#e4e9ea;"></div>
<div class="a" style="left:196.2px;top:322px;width:1px;height:16.5px;background:#e4e9ea;"></div>
<div class="a" style="left:246.4px;top:322px;width:1px;height:16.5px;background:#e4e9ea;"></div>
<div class="a" style="left:288.8px;top:322px;width:1px;height:16.5px;background:#e4e9ea;"></div>
<div class="a" style="left:334.9px;top:322px;width:1px;height:16.5px;background:#e4e9ea;"></div>
<div class="a" style="left:383.3px;top:322px;width:1px;height:16.5px;background:#e4e9ea;"></div>
<div class="a" style="left:432.8px;top:322px;width:1px;height:16.5px;background:#e4e9ea;"></div>
<div class="a" style="left:481.5px;top:322px;width:1px;height:16.5px;background:#e4e9ea;"></div>
<div class="a" style="left:530.9px;top:322px;width:1px;height:16.5px;background:#e4e9ea;"></div>
<div class="a" style="left:617.7px;top:322px;width:1px;height:16.5px;background:#e4e9ea;"></div>
<div class="a" style="left:670.5px;top:322px;width:1px;height:16.5px;background:#e4e9ea;"></div>
<div class="a l " style="left:37.20px;top:324.37px;height:14px;line-height:14px;font-size:10.4px;color:#262626;transform:scaleX(0.7712);transform-origin:0 50%;">JYP2-132M1-6</div>
<div class="a t " style="left:94.50px;top:324.37px;width:60px;height:14px;line-height:14px;font-size:10.4px;color:#262626;transform:scaleX(0.965);">4.0</div>
<div class="a t " style="left:145.20px;top:324.37px;width:60px;height:14px;line-height:14px;font-size:10.4px;color:#262626;transform:scaleX(0.965);">9.8</div>
<div class="a t " style="left:194.80px;top:324.37px;width:60px;height:14px;line-height:14px;font-size:10.4px;color:#262626;transform:scaleX(0.965);">960</div>
<div class="a t " style="left:238.40px;top:324.37px;width:60px;height:14px;line-height:14px;font-size:10.4px;color:#262626;transform:scaleX(0.965);">82.0</div>
<div class="a t " style="left:281.80px;top:324.37px;width:60px;height:14px;line-height:14px;font-size:10.4px;color:#262626;transform:scaleX(0.965);">0.76</div>
<div class="a t " style="left:329.90px;top:324.37px;width:60px;height:14px;line-height:14px;font-size:10.4px;color:#262626;transform:scaleX(0.965);">38.2</div>
<div class="a t " style="left:380.40px;top:324.37px;width:60px;height:14px;line-height:14px;font-size:10.4px;color:#262626;transform:scaleX(0.965);">2.1</div>
<div class="a t " style="left:429.30px;top:324.37px;width:60px;height:14px;line-height:14px;font-size:10.4px;color:#262626;transform:scaleX(0.965);">2.1</div>
<div class="a t " style="left:480.30px;top:324.37px;width:60px;height:14px;line-height:14px;font-size:10.4px;color:#262626;transform:scaleX(0.965);">6.5</div>
<div class="a t " style="left:549.70px;top:324.37px;width:60px;height:14px;line-height:14px;font-size:10.4px;color:#262626;transform:scaleX(0.965);">69</div>
<div class="a t " style="left:618.40px;top:324.37px;width:60px;height:14px;line-height:14px;font-size:10.4px;color:#262626;transform:scaleX(0.965);">1.6</div>
<div class="a t " style="left:663.90px;top:324.37px;width:60px;height:14px;line-height:14px;font-size:10.4px;color:#262626;transform:scaleX(0.965);">46</div>
<div class="a" style="left:35.1px;top:338.5px;width:680.8px;height:17.0px;background:#b1dde5;"></div>
<div class="a" style="left:98.8px;top:338.5px;width:1px;height:17.0px;background:rgba(255,255,255,.45);"></div>
<div class="a" style="left:146.1px;top:338.5px;width:1px;height:17.0px;background:rgba(255,255,255,.45);"></div>
<div class="a" style="left:196.2px;top:338.5px;width:1px;height:17.0px;background:rgba(255,255,255,.45);"></div>
<div class="a" style="left:246.4px;top:338.5px;width:1px;height:17.0px;background:rgba(255,255,255,.45);"></div>
<div class="a" style="left:288.8px;top:338.5px;width:1px;height:17.0px;background:rgba(255,255,255,.45);"></div>
<div class="a" style="left:334.9px;top:338.5px;width:1px;height:17.0px;background:rgba(255,255,255,.45);"></div>
<div class="a" style="left:383.3px;top:338.5px;width:1px;height:17.0px;background:rgba(255,255,255,.45);"></div>
<div class="a" style="left:432.8px;top:338.5px;width:1px;height:17.0px;background:rgba(255,255,255,.45);"></div>
<div class="a" style="left:481.5px;top:338.5px;width:1px;height:17.0px;background:rgba(255,255,255,.45);"></div>
<div class="a" style="left:530.9px;top:338.5px;width:1px;height:17.0px;background:rgba(255,255,255,.45);"></div>
<div class="a" style="left:617.7px;top:338.5px;width:1px;height:17.0px;background:rgba(255,255,255,.45);"></div>
<div class="a" style="left:670.5px;top:338.5px;width:1px;height:17.0px;background:rgba(255,255,255,.45);"></div>
<div class="a l " style="left:37.20px;top:341.57px;height:14px;line-height:14px;font-size:10.4px;color:#262626;transform:scaleX(0.7856);transform-origin:0 50%;">JYP2-132M2-6</div>
<div class="a t " style="left:94.50px;top:341.57px;width:60px;height:14px;line-height:14px;font-size:10.4px;color:#262626;transform:scaleX(0.965);">5.5</div>
<div class="a t " style="left:145.20px;top:341.57px;width:60px;height:14px;line-height:14px;font-size:10.4px;color:#262626;transform:scaleX(0.965);">12.9</div>
<div class="a t " style="left:194.80px;top:341.57px;width:60px;height:14px;line-height:14px;font-size:10.4px;color:#262626;transform:scaleX(0.965);">960</div>
<div class="a t " style="left:238.40px;top:341.57px;width:60px;height:14px;line-height:14px;font-size:10.4px;color:#262626;transform:scaleX(0.965);">84.0</div>
<div class="a t " style="left:281.80px;top:341.57px;width:60px;height:14px;line-height:14px;font-size:10.4px;color:#262626;transform:scaleX(0.965);">0.77</div>
<div class="a t " style="left:329.90px;top:341.57px;width:60px;height:14px;line-height:14px;font-size:10.4px;color:#262626;transform:scaleX(0.965);">52.5</div>
<div class="a t " style="left:380.40px;top:341.57px;width:60px;height:14px;line-height:14px;font-size:10.4px;color:#262626;transform:scaleX(0.965);">2.1</div>
<div class="a t " style="left:429.30px;top:341.57px;width:60px;height:14px;line-height:14px;font-size:10.4px;color:#262626;transform:scaleX(0.965);">2.1</div>
<div class="a t " style="left:480.30px;top:341.57px;width:60px;height:14px;line-height:14px;font-size:10.4px;color:#262626;transform:scaleX(0.965);">6.5</div>
<div class="a t " style="left:549.70px;top:341.57px;width:60px;height:14px;line-height:14px;font-size:10.4px;color:#262626;transform:scaleX(0.965);">69</div>
<div class="a t " style="left:618.40px;top:341.57px;width:60px;height:14px;line-height:14px;font-size:10.4px;color:#262626;transform:scaleX(0.965);">1.6</div>
<div class="a t " style="left:663.90px;top:341.57px;width:60px;height:14px;line-height:14px;font-size:10.4px;color:#262626;transform:scaleX(0.965);">53</div>
<div class="a" style="left:98.7px;top:376px;width:1px;height:17.5px;background:#e4e9ea;"></div>
<div class="a" style="left:146.1px;top:376px;width:1px;height:17.5px;background:#e4e9ea;"></div>
<div class="a" style="left:196.2px;top:376px;width:1px;height:17.5px;background:#e4e9ea;"></div>
<div class="a" style="left:245.9px;top:376px;width:1px;height:17.5px;background:#e4e9ea;"></div>
<div class="a" style="left:286.8px;top:376px;width:1px;height:17.5px;background:#e4e9ea;"></div>
<div class="a" style="left:333.5px;top:376px;width:1px;height:17.5px;background:#e4e9ea;"></div>
<div class="a" style="left:383.5px;top:376px;width:1px;height:17.5px;background:#e4e9ea;"></div>
<div class="a" style="left:433.0px;top:376px;width:1px;height:17.5px;background:#e4e9ea;"></div>
<div class="a" style="left:480.2px;top:376px;width:1px;height:17.5px;background:#e4e9ea;"></div>
<div class="a" style="left:530.5px;top:376px;width:1px;height:17.5px;background:#e4e9ea;"></div>
<div class="a" style="left:616.7px;top:376px;width:1px;height:17.5px;background:#e4e9ea;"></div>
<div class="a" style="left:669.7px;top:376px;width:1px;height:17.5px;background:#e4e9ea;"></div>
<div class="a l " style="left:37.60px;top:378.47px;height:14px;line-height:14px;font-size:10.4px;color:#262626;transform:scaleX(0.9121);transform-origin:0 50%;">JYP2-80M1-8</div>
<div class="a t " style="left:92.40px;top:378.47px;width:60px;height:14px;line-height:14px;font-size:10.4px;color:#262626;transform:scaleX(0.965);">0.18</div>
<div class="a t " style="left:141.00px;top:378.47px;width:60px;height:14px;line-height:14px;font-size:10.4px;color:#262626;transform:scaleX(0.965);">0.9</div>
<div class="a t " style="left:192.90px;top:378.47px;width:60px;height:14px;line-height:14px;font-size:10.4px;color:#262626;transform:scaleX(0.965);">700</div>
<div class="a t " style="left:237.10px;top:378.47px;width:60px;height:14px;line-height:14px;font-size:10.4px;color:#262626;transform:scaleX(0.965);">51.0</div>
<div class="a t " style="left:281.00px;top:378.47px;width:60px;height:14px;line-height:14px;font-size:10.4px;color:#262626;transform:scaleX(0.965);">0.61</div>
<div class="a t " style="left:330.80px;top:378.47px;width:60px;height:14px;line-height:14px;font-size:10.4px;color:#262626;transform:scaleX(0.965);">2.3</div>
<div class="a t " style="left:378.60px;top:378.47px;width:60px;height:14px;line-height:14px;font-size:10.4px;color:#262626;transform:scaleX(0.965);">1.9</div>
<div class="a t " style="left:428.40px;top:378.47px;width:60px;height:14px;line-height:14px;font-size:10.4px;color:#262626;transform:scaleX(0.965);">1.8</div>
<div class="a t " style="left:475.80px;top:378.47px;width:60px;height:14px;line-height:14px;font-size:10.4px;color:#262626;transform:scaleX(0.965);">3.3</div>
<div class="a t " style="left:546.00px;top:378.47px;width:60px;height:14px;line-height:14px;font-size:10.4px;color:#262626;transform:scaleX(0.965);">52</div>
<div class="a t " style="left:616.50px;top:378.47px;width:60px;height:14px;line-height:14px;font-size:10.4px;color:#262626;transform:scaleX(0.965);">1.3</div>
<div class="a t " style="left:663.90px;top:378.47px;width:60px;height:14px;line-height:14px;font-size:10.4px;color:#262626;transform:scaleX(0.965);">10</div>
<div class="a" style="left:35.3px;top:393.5px;width:680.9000000000001px;height:17.0px;background:#b1dde5;"></div>
<div class="a" style="left:98.7px;top:393.5px;width:1px;height:17.0px;background:rgba(255,255,255,.45);"></div>
<div class="a" style="left:146.1px;top:393.5px;width:1px;height:17.0px;background:rgba(255,255,255,.45);"></div>
<div class="a" style="left:196.2px;top:393.5px;width:1px;height:17.0px;background:rgba(255,255,255,.45);"></div>
<div class="a" style="left:245.9px;top:393.5px;width:1px;height:17.0px;background:rgba(255,255,255,.45);"></div>
<div class="a" style="left:286.8px;top:393.5px;width:1px;height:17.0px;background:rgba(255,255,255,.45);"></div>
<div class="a" style="left:333.5px;top:393.5px;width:1px;height:17.0px;background:rgba(255,255,255,.45);"></div>
<div class="a" style="left:383.5px;top:393.5px;width:1px;height:17.0px;background:rgba(255,255,255,.45);"></div>
<div class="a" style="left:433.0px;top:393.5px;width:1px;height:17.0px;background:rgba(255,255,255,.45);"></div>
<div class="a" style="left:480.2px;top:393.5px;width:1px;height:17.0px;background:rgba(255,255,255,.45);"></div>
<div class="a" style="left:530.5px;top:393.5px;width:1px;height:17.0px;background:rgba(255,255,255,.45);"></div>
<div class="a" style="left:616.7px;top:393.5px;width:1px;height:17.0px;background:rgba(255,255,255,.45);"></div>
<div class="a" style="left:669.7px;top:393.5px;width:1px;height:17.0px;background:rgba(255,255,255,.45);"></div>
<div class="a l " style="left:37.60px;top:395.47px;height:14px;line-height:14px;font-size:10.4px;color:#262626;transform:scaleX(0.9121);transform-origin:0 50%;">JYP2-80M2-8</div>
<div class="a t " style="left:92.40px;top:395.47px;width:60px;height:14px;line-height:14px;font-size:10.4px;color:#262626;transform:scaleX(0.965);">0.25</div>
<div class="a t " style="left:141.00px;top:395.47px;width:60px;height:14px;line-height:14px;font-size:10.4px;color:#262626;transform:scaleX(0.965);">1.2</div>
<div class="a t " style="left:192.90px;top:395.47px;width:60px;height:14px;line-height:14px;font-size:10.4px;color:#262626;transform:scaleX(0.965);">700</div>
<div class="a t " style="left:237.10px;top:395.47px;width:60px;height:14px;line-height:14px;font-size:10.4px;color:#262626;transform:scaleX(0.965);">54.0</div>
<div class="a t " style="left:281.00px;top:395.47px;width:60px;height:14px;line-height:14px;font-size:10.4px;color:#262626;transform:scaleX(0.965);">0.61</div>
<div class="a t " style="left:330.80px;top:395.47px;width:60px;height:14px;line-height:14px;font-size:10.4px;color:#262626;transform:scaleX(0.965);">3.2</div>
<div class="a t " style="left:378.60px;top:395.47px;width:60px;height:14px;line-height:14px;font-size:10.4px;color:#262626;transform:scaleX(0.965);">1.9</div>
<div class="a t " style="left:428.40px;top:395.47px;width:60px;height:14px;line-height:14px;font-size:10.4px;color:#262626;transform:scaleX(0.965);">1.8</div>
<div class="a t " style="left:475.80px;top:395.47px;width:60px;height:14px;line-height:14px;font-size:10.4px;color:#262626;transform:scaleX(0.965);">3.3</div>
<div class="a t " style="left:546.00px;top:395.47px;width:60px;height:14px;line-height:14px;font-size:10.4px;color:#262626;transform:scaleX(0.965);">52</div>
<div class="a t " style="left:616.50px;top:395.47px;width:60px;height:14px;line-height:14px;font-size:10.4px;color:#262626;transform:scaleX(0.965);">1.3</div>
<div class="a t " style="left:663.90px;top:395.47px;width:60px;height:14px;line-height:14px;font-size:10.4px;color:#262626;transform:scaleX(0.965);">11</div>
<div class="a" style="left:98.7px;top:410.5px;width:1px;height:18.0px;background:#e4e9ea;"></div>
<div class="a" style="left:146.1px;top:410.5px;width:1px;height:18.0px;background:#e4e9ea;"></div>
<div class="a" style="left:196.2px;top:410.5px;width:1px;height:18.0px;background:#e4e9ea;"></div>
<div class="a" style="left:245.9px;top:410.5px;width:1px;height:18.0px;background:#e4e9ea;"></div>
<div class="a" style="left:286.8px;top:410.5px;width:1px;height:18.0px;background:#e4e9ea;"></div>
<div class="a" style="left:333.5px;top:410.5px;width:1px;height:18.0px;background:#e4e9ea;"></div>
<div class="a" style="left:383.5px;top:410.5px;width:1px;height:18.0px;background:#e4e9ea;"></div>
<div class="a" style="left:433.0px;top:410.5px;width:1px;height:18.0px;background:#e4e9ea;"></div>
<div class="a" style="left:480.2px;top:410.5px;width:1px;height:18.0px;background:#e4e9ea;"></div>
<div class="a" style="left:530.5px;top:410.5px;width:1px;height:18.0px;background:#e4e9ea;"></div>
<div class="a" style="left:616.7px;top:410.5px;width:1px;height:18.0px;background:#e4e9ea;"></div>
<div class="a" style="left:669.7px;top:410.5px;width:1px;height:18.0px;background:#e4e9ea;"></div>
<div class="a l " style="left:37.60px;top:412.47px;height:14px;line-height:14px;font-size:10.4px;color:#262626;transform:scaleX(0.9095);transform-origin:0 50%;">JYP2-90S-8</div>
<div class="a t " style="left:92.40px;top:412.47px;width:60px;height:14px;line-height:14px;font-size:10.4px;color:#262626;transform:scaleX(0.965);">0.37</div>
<div class="a t " style="left:141.00px;top:412.47px;width:60px;height:14px;line-height:14px;font-size:10.4px;color:#262626;transform:scaleX(0.965);">1.5</div>
<div class="a t " style="left:192.90px;top:412.47px;width:60px;height:14px;line-height:14px;font-size:10.4px;color:#262626;transform:scaleX(0.965);">700</div>
<div class="a t " style="left:237.10px;top:412.47px;width:60px;height:14px;line-height:14px;font-size:10.4px;color:#262626;transform:scaleX(0.965);">62.0</div>
<div class="a t " style="left:281.00px;top:412.47px;width:60px;height:14px;line-height:14px;font-size:10.4px;color:#262626;transform:scaleX(0.965);">0.61</div>
<div class="a t " style="left:330.80px;top:412.47px;width:60px;height:14px;line-height:14px;font-size:10.4px;color:#262626;transform:scaleX(0.965);">4.7</div>
<div class="a t " style="left:378.60px;top:412.47px;width:60px;height:14px;line-height:14px;font-size:10.4px;color:#262626;transform:scaleX(0.965);">1.9</div>
<div class="a t " style="left:428.40px;top:412.47px;width:60px;height:14px;line-height:14px;font-size:10.4px;color:#262626;transform:scaleX(0.965);">1.8</div>
<div class="a t " style="left:475.80px;top:412.47px;width:60px;height:14px;line-height:14px;font-size:10.4px;color:#262626;transform:scaleX(0.965);">4.0</div>
<div class="a t " style="left:546.00px;top:412.47px;width:60px;height:14px;line-height:14px;font-size:10.4px;color:#262626;transform:scaleX(0.965);">56</div>
<div class="a t " style="left:616.50px;top:412.47px;width:60px;height:14px;line-height:14px;font-size:10.4px;color:#262626;transform:scaleX(0.965);">1.3</div>
<div class="a t " style="left:663.90px;top:412.47px;width:60px;height:14px;line-height:14px;font-size:10.4px;color:#262626;transform:scaleX(0.965);">13</div>
<div class="a" style="left:35.3px;top:428.5px;width:680.9000000000001px;height:16.5px;background:#b1dde5;"></div>
<div class="a" style="left:98.7px;top:428.5px;width:1px;height:16.5px;background:rgba(255,255,255,.45);"></div>
<div class="a" style="left:146.1px;top:428.5px;width:1px;height:16.5px;background:rgba(255,255,255,.45);"></div>
<div class="a" style="left:196.2px;top:428.5px;width:1px;height:16.5px;background:rgba(255,255,255,.45);"></div>
<div class="a" style="left:245.9px;top:428.5px;width:1px;height:16.5px;background:rgba(255,255,255,.45);"></div>
<div class="a" style="left:286.8px;top:428.5px;width:1px;height:16.5px;background:rgba(255,255,255,.45);"></div>
<div class="a" style="left:333.5px;top:428.5px;width:1px;height:16.5px;background:rgba(255,255,255,.45);"></div>
<div class="a" style="left:383.5px;top:428.5px;width:1px;height:16.5px;background:rgba(255,255,255,.45);"></div>
<div class="a" style="left:433.0px;top:428.5px;width:1px;height:16.5px;background:rgba(255,255,255,.45);"></div>
<div class="a" style="left:480.2px;top:428.5px;width:1px;height:16.5px;background:rgba(255,255,255,.45);"></div>
<div class="a" style="left:530.5px;top:428.5px;width:1px;height:16.5px;background:rgba(255,255,255,.45);"></div>
<div class="a" style="left:616.7px;top:428.5px;width:1px;height:16.5px;background:rgba(255,255,255,.45);"></div>
<div class="a" style="left:669.7px;top:428.5px;width:1px;height:16.5px;background:rgba(255,255,255,.45);"></div>
<div class="a l " style="left:37.60px;top:429.67px;height:14px;line-height:14px;font-size:10.4px;color:#262626;transform:scaleX(0.9104);transform-origin:0 50%;">JYP2-90L-8</div>
<div class="a t " style="left:92.40px;top:429.67px;width:60px;height:14px;line-height:14px;font-size:10.4px;color:#262626;transform:scaleX(0.965);">0.55</div>
<div class="a t " style="left:141.00px;top:429.67px;width:60px;height:14px;line-height:14px;font-size:10.4px;color:#262626;transform:scaleX(0.965);">2.2</div>
<div class="a t " style="left:192.90px;top:429.67px;width:60px;height:14px;line-height:14px;font-size:10.4px;color:#262626;transform:scaleX(0.965);">700</div>
<div class="a t " style="left:237.10px;top:429.67px;width:60px;height:14px;line-height:14px;font-size:10.4px;color:#262626;transform:scaleX(0.965);">63.0</div>
<div class="a t " style="left:281.00px;top:429.67px;width:60px;height:14px;line-height:14px;font-size:10.4px;color:#262626;transform:scaleX(0.965);">0.61</div>
<div class="a t " style="left:330.80px;top:429.67px;width:60px;height:14px;line-height:14px;font-size:10.4px;color:#262626;transform:scaleX(0.965);">7.0</div>
<div class="a t " style="left:378.60px;top:429.67px;width:60px;height:14px;line-height:14px;font-size:10.4px;color:#262626;transform:scaleX(0.965);">2.0</div>
<div class="a t " style="left:428.40px;top:429.67px;width:60px;height:14px;line-height:14px;font-size:10.4px;color:#262626;transform:scaleX(0.965);">1.8</div>
<div class="a t " style="left:475.80px;top:429.67px;width:60px;height:14px;line-height:14px;font-size:10.4px;color:#262626;transform:scaleX(0.965);">4.0</div>
<div class="a t " style="left:546.00px;top:429.67px;width:60px;height:14px;line-height:14px;font-size:10.4px;color:#262626;transform:scaleX(0.965);">56</div>
<div class="a t " style="left:616.50px;top:429.67px;width:60px;height:14px;line-height:14px;font-size:10.4px;color:#262626;transform:scaleX(0.965);">1.3</div>
<div class="a t " style="left:663.90px;top:429.67px;width:60px;height:14px;line-height:14px;font-size:10.4px;color:#262626;transform:scaleX(0.965);">15</div>
<div class="a" style="left:98.7px;top:445px;width:1px;height:17.5px;background:#e4e9ea;"></div>
<div class="a" style="left:146.1px;top:445px;width:1px;height:17.5px;background:#e4e9ea;"></div>
<div class="a" style="left:196.2px;top:445px;width:1px;height:17.5px;background:#e4e9ea;"></div>
<div class="a" style="left:245.9px;top:445px;width:1px;height:17.5px;background:#e4e9ea;"></div>
<div class="a" style="left:286.8px;top:445px;width:1px;height:17.5px;background:#e4e9ea;"></div>
<div class="a" style="left:333.5px;top:445px;width:1px;height:17.5px;background:#e4e9ea;"></div>
<div class="a" style="left:383.5px;top:445px;width:1px;height:17.5px;background:#e4e9ea;"></div>
<div class="a" style="left:433.0px;top:445px;width:1px;height:17.5px;background:#e4e9ea;"></div>
<div class="a" style="left:480.2px;top:445px;width:1px;height:17.5px;background:#e4e9ea;"></div>
<div class="a" style="left:530.5px;top:445px;width:1px;height:17.5px;background:#e4e9ea;"></div>
<div class="a" style="left:616.7px;top:445px;width:1px;height:17.5px;background:#e4e9ea;"></div>
<div class="a" style="left:669.7px;top:445px;width:1px;height:17.5px;background:#e4e9ea;"></div>
<div class="a l " style="left:37.60px;top:447.47px;height:14px;line-height:14px;font-size:10.4px;color:#262626;transform:scaleX(0.8723);transform-origin:0 50%;">JYP2-100L1-8</div>
<div class="a t " style="left:92.40px;top:447.47px;width:60px;height:14px;line-height:14px;font-size:10.4px;color:#262626;transform:scaleX(0.965);">0.75</div>
<div class="a t " style="left:141.00px;top:447.47px;width:60px;height:14px;line-height:14px;font-size:10.4px;color:#262626;transform:scaleX(0.965);">2.4</div>
<div class="a t " style="left:192.90px;top:447.47px;width:60px;height:14px;line-height:14px;font-size:10.4px;color:#262626;transform:scaleX(0.965);">690</div>
<div class="a t " style="left:237.10px;top:447.47px;width:60px;height:14px;line-height:14px;font-size:10.4px;color:#262626;transform:scaleX(0.965);">71.0</div>
<div class="a t " style="left:281.00px;top:447.47px;width:60px;height:14px;line-height:14px;font-size:10.4px;color:#262626;transform:scaleX(0.965);">0.67</div>
<div class="a t " style="left:330.80px;top:447.47px;width:60px;height:14px;line-height:14px;font-size:10.4px;color:#262626;transform:scaleX(0.965);">9.5</div>
<div class="a t " style="left:378.60px;top:447.47px;width:60px;height:14px;line-height:14px;font-size:10.4px;color:#262626;transform:scaleX(0.965);">2.0</div>
<div class="a t " style="left:428.40px;top:447.47px;width:60px;height:14px;line-height:14px;font-size:10.4px;color:#262626;transform:scaleX(0.965);">1.8</div>
<div class="a t " style="left:475.80px;top:447.47px;width:60px;height:14px;line-height:14px;font-size:10.4px;color:#262626;transform:scaleX(0.965);">4.0</div>
<div class="a t " style="left:546.00px;top:447.47px;width:60px;height:14px;line-height:14px;font-size:10.4px;color:#262626;transform:scaleX(0.965);">59</div>
<div class="a t " style="left:616.50px;top:447.47px;width:60px;height:14px;line-height:14px;font-size:10.4px;color:#262626;transform:scaleX(0.965);">1.3</div>
<div class="a t " style="left:663.90px;top:447.47px;width:60px;height:14px;line-height:14px;font-size:10.4px;color:#262626;transform:scaleX(0.965);">22</div>
<div class="a" style="left:35.3px;top:462.5px;width:680.9000000000001px;height:17.0px;background:#b1dde5;"></div>
<div class="a" style="left:98.7px;top:462.5px;width:1px;height:17.0px;background:rgba(255,255,255,.45);"></div>
<div class="a" style="left:146.1px;top:462.5px;width:1px;height:17.0px;background:rgba(255,255,255,.45);"></div>
<div class="a" style="left:196.2px;top:462.5px;width:1px;height:17.0px;background:rgba(255,255,255,.45);"></div>
<div class="a" style="left:245.9px;top:462.5px;width:1px;height:17.0px;background:rgba(255,255,255,.45);"></div>
<div class="a" style="left:286.8px;top:462.5px;width:1px;height:17.0px;background:rgba(255,255,255,.45);"></div>
<div class="a" style="left:333.5px;top:462.5px;width:1px;height:17.0px;background:rgba(255,255,255,.45);"></div>
<div class="a" style="left:383.5px;top:462.5px;width:1px;height:17.0px;background:rgba(255,255,255,.45);"></div>
<div class="a" style="left:433.0px;top:462.5px;width:1px;height:17.0px;background:rgba(255,255,255,.45);"></div>
<div class="a" style="left:480.2px;top:462.5px;width:1px;height:17.0px;background:rgba(255,255,255,.45);"></div>
<div class="a" style="left:530.5px;top:462.5px;width:1px;height:17.0px;background:rgba(255,255,255,.45);"></div>
<div class="a" style="left:616.7px;top:462.5px;width:1px;height:17.0px;background:rgba(255,255,255,.45);"></div>
<div class="a" style="left:669.7px;top:462.5px;width:1px;height:17.0px;background:rgba(255,255,255,.45);"></div>
<div class="a l " style="left:37.60px;top:464.97px;height:14px;line-height:14px;font-size:10.4px;color:#262626;transform:scaleX(0.8497);transform-origin:0 50%;">JYP2-100L2-8</div>
<div class="a t " style="left:92.40px;top:464.97px;width:60px;height:14px;line-height:14px;font-size:10.4px;color:#262626;transform:scaleX(0.965);">1.1</div>
<div class="a t " style="left:141.00px;top:464.97px;width:60px;height:14px;line-height:14px;font-size:10.4px;color:#262626;transform:scaleX(0.965);">3.3</div>
<div class="a t " style="left:192.90px;top:464.97px;width:60px;height:14px;line-height:14px;font-size:10.4px;color:#262626;transform:scaleX(0.965);">690</div>
<div class="a t " style="left:237.10px;top:464.97px;width:60px;height:14px;line-height:14px;font-size:10.4px;color:#262626;transform:scaleX(0.965);">73.0</div>
<div class="a t " style="left:281.00px;top:464.97px;width:60px;height:14px;line-height:14px;font-size:10.4px;color:#262626;transform:scaleX(0.965);">0.69</div>
<div class="a t " style="left:330.80px;top:464.97px;width:60px;height:14px;line-height:14px;font-size:10.4px;color:#262626;transform:scaleX(0.965);">14.0</div>
<div class="a t " style="left:378.60px;top:464.97px;width:60px;height:14px;line-height:14px;font-size:10.4px;color:#262626;transform:scaleX(0.965);">2.0</div>
<div class="a t " style="left:428.40px;top:464.97px;width:60px;height:14px;line-height:14px;font-size:10.4px;color:#262626;transform:scaleX(0.965);">1.8</div>
<div class="a t " style="left:475.80px;top:464.97px;width:60px;height:14px;line-height:14px;font-size:10.4px;color:#262626;transform:scaleX(0.965);">5.0</div>
<div class="a t " style="left:546.00px;top:464.97px;width:60px;height:14px;line-height:14px;font-size:10.4px;color:#262626;transform:scaleX(0.965);">59</div>
<div class="a t " style="left:616.50px;top:464.97px;width:60px;height:14px;line-height:14px;font-size:10.4px;color:#262626;transform:scaleX(0.965);">1.3</div>
<div class="a t " style="left:663.90px;top:464.97px;width:60px;height:14px;line-height:14px;font-size:10.4px;color:#262626;transform:scaleX(0.965);">23</div>
<div class="a" style="left:98.7px;top:479.5px;width:1px;height:18.0px;background:#e4e9ea;"></div>
<div class="a" style="left:146.1px;top:479.5px;width:1px;height:18.0px;background:#e4e9ea;"></div>
<div class="a" style="left:196.2px;top:479.5px;width:1px;height:18.0px;background:#e4e9ea;"></div>
<div class="a" style="left:245.9px;top:479.5px;width:1px;height:18.0px;background:#e4e9ea;"></div>
<div class="a" style="left:286.8px;top:479.5px;width:1px;height:18.0px;background:#e4e9ea;"></div>
<div class="a" style="left:333.5px;top:479.5px;width:1px;height:18.0px;background:#e4e9ea;"></div>
<div class="a" style="left:383.5px;top:479.5px;width:1px;height:18.0px;background:#e4e9ea;"></div>
<div class="a" style="left:433.0px;top:479.5px;width:1px;height:18.0px;background:#e4e9ea;"></div>
<div class="a" style="left:480.2px;top:479.5px;width:1px;height:18.0px;background:#e4e9ea;"></div>
<div class="a" style="left:530.5px;top:479.5px;width:1px;height:18.0px;background:#e4e9ea;"></div>
<div class="a" style="left:616.7px;top:479.5px;width:1px;height:18.0px;background:#e4e9ea;"></div>
<div class="a" style="left:669.7px;top:479.5px;width:1px;height:18.0px;background:#e4e9ea;"></div>
<div class="a l " style="left:37.60px;top:482.47px;height:14px;line-height:14px;font-size:10.4px;color:#262626;transform:scaleX(0.9074);transform-origin:0 50%;">JYP2-112M-8</div>
<div class="a t " style="left:92.40px;top:482.47px;width:60px;height:14px;line-height:14px;font-size:10.4px;color:#262626;transform:scaleX(0.965);">1.5</div>
<div class="a t " style="left:141.00px;top:482.47px;width:60px;height:14px;line-height:14px;font-size:10.4px;color:#262626;transform:scaleX(0.965);">4.4</div>
<div class="a t " style="left:192.90px;top:482.47px;width:60px;height:14px;line-height:14px;font-size:10.4px;color:#262626;transform:scaleX(0.965);">700</div>
<div class="a t " style="left:237.10px;top:482.47px;width:60px;height:14px;line-height:14px;font-size:10.4px;color:#262626;transform:scaleX(0.965);">75.0</div>
<div class="a t " style="left:281.00px;top:482.47px;width:60px;height:14px;line-height:14px;font-size:10.4px;color:#262626;transform:scaleX(0.965);">0.69</div>
<div class="a t " style="left:330.80px;top:482.47px;width:60px;height:14px;line-height:14px;font-size:10.4px;color:#262626;transform:scaleX(0.965);">19.1</div>
<div class="a t " style="left:378.60px;top:482.47px;width:60px;height:14px;line-height:14px;font-size:10.4px;color:#262626;transform:scaleX(0.965);">2.0</div>
<div class="a t " style="left:428.40px;top:482.47px;width:60px;height:14px;line-height:14px;font-size:10.4px;color:#262626;transform:scaleX(0.965);">1.8</div>
<div class="a t " style="left:475.80px;top:482.47px;width:60px;height:14px;line-height:14px;font-size:10.4px;color:#262626;transform:scaleX(0.965);">5.0</div>
<div class="a t " style="left:546.00px;top:482.47px;width:60px;height:14px;line-height:14px;font-size:10.4px;color:#262626;transform:scaleX(0.965);">61</div>
<div class="a t " style="left:616.50px;top:482.47px;width:60px;height:14px;line-height:14px;font-size:10.4px;color:#262626;transform:scaleX(0.965);">1.3</div>
<div class="a t " style="left:663.90px;top:482.47px;width:60px;height:14px;line-height:14px;font-size:10.4px;color:#262626;transform:scaleX(0.965);">26</div>
<div class="a" style="left:35.3px;top:497.5px;width:680.9000000000001px;height:17.0px;background:#b1dde5;"></div>
<div class="a" style="left:98.7px;top:497.5px;width:1px;height:17.0px;background:rgba(255,255,255,.45);"></div>
<div class="a" style="left:146.1px;top:497.5px;width:1px;height:17.0px;background:rgba(255,255,255,.45);"></div>
<div class="a" style="left:196.2px;top:497.5px;width:1px;height:17.0px;background:rgba(255,255,255,.45);"></div>
<div class="a" style="left:245.9px;top:497.5px;width:1px;height:17.0px;background:rgba(255,255,255,.45);"></div>
<div class="a" style="left:286.8px;top:497.5px;width:1px;height:17.0px;background:rgba(255,255,255,.45);"></div>
<div class="a" style="left:333.5px;top:497.5px;width:1px;height:17.0px;background:rgba(255,255,255,.45);"></div>
<div class="a" style="left:383.5px;top:497.5px;width:1px;height:17.0px;background:rgba(255,255,255,.45);"></div>
<div class="a" style="left:433.0px;top:497.5px;width:1px;height:17.0px;background:rgba(255,255,255,.45);"></div>
<div class="a" style="left:480.2px;top:497.5px;width:1px;height:17.0px;background:rgba(255,255,255,.45);"></div>
<div class="a" style="left:530.5px;top:497.5px;width:1px;height:17.0px;background:rgba(255,255,255,.45);"></div>
<div class="a" style="left:616.7px;top:497.5px;width:1px;height:17.0px;background:rgba(255,255,255,.45);"></div>
<div class="a" style="left:669.7px;top:497.5px;width:1px;height:17.0px;background:rgba(255,255,255,.45);"></div>
<div class="a l " style="left:37.60px;top:499.47px;height:14px;line-height:14px;font-size:10.4px;color:#262626;transform:scaleX(0.9134);transform-origin:0 50%;">JYP2-132S-8</div>
<div class="a t " style="left:92.40px;top:499.47px;width:60px;height:14px;line-height:14px;font-size:10.4px;color:#262626;transform:scaleX(0.965);">2.2</div>
<div class="a t " style="left:141.00px;top:499.47px;width:60px;height:14px;line-height:14px;font-size:10.4px;color:#262626;transform:scaleX(0.965);">6</div>
<div class="a t " style="left:192.90px;top:499.47px;width:60px;height:14px;line-height:14px;font-size:10.4px;color:#262626;transform:scaleX(0.965);">710</div>
<div class="a t " style="left:237.10px;top:499.47px;width:60px;height:14px;line-height:14px;font-size:10.4px;color:#262626;transform:scaleX(0.965);">78.0</div>
<div class="a t " style="left:281.00px;top:499.47px;width:60px;height:14px;line-height:14px;font-size:10.4px;color:#262626;transform:scaleX(0.965);">0.71</div>
<div class="a t " style="left:330.80px;top:499.47px;width:60px;height:14px;line-height:14px;font-size:10.4px;color:#262626;transform:scaleX(0.965);">28.0</div>
<div class="a t " style="left:378.60px;top:499.47px;width:60px;height:14px;line-height:14px;font-size:10.4px;color:#262626;transform:scaleX(0.965);">2.0</div>
<div class="a t " style="left:428.40px;top:499.47px;width:60px;height:14px;line-height:14px;font-size:10.4px;color:#262626;transform:scaleX(0.965);">1.8</div>
<div class="a t " style="left:475.80px;top:499.47px;width:60px;height:14px;line-height:14px;font-size:10.4px;color:#262626;transform:scaleX(0.965);">6.0</div>
<div class="a t " style="left:546.00px;top:499.47px;width:60px;height:14px;line-height:14px;font-size:10.4px;color:#262626;transform:scaleX(0.965);">64</div>
<div class="a t " style="left:616.50px;top:499.47px;width:60px;height:14px;line-height:14px;font-size:10.4px;color:#262626;transform:scaleX(0.965);">1.3</div>
<div class="a t " style="left:663.90px;top:499.47px;width:60px;height:14px;line-height:14px;font-size:10.4px;color:#262626;transform:scaleX(0.965);">44</div>
<div class="a" style="left:98.7px;top:514.5px;width:1px;height:17.0px;background:#e4e9ea;"></div>
<div class="a" style="left:146.1px;top:514.5px;width:1px;height:17.0px;background:#e4e9ea;"></div>
<div class="a" style="left:196.2px;top:514.5px;width:1px;height:17.0px;background:#e4e9ea;"></div>
<div class="a" style="left:245.9px;top:514.5px;width:1px;height:17.0px;background:#e4e9ea;"></div>
<div class="a" style="left:286.8px;top:514.5px;width:1px;height:17.0px;background:#e4e9ea;"></div>
<div class="a" style="left:333.5px;top:514.5px;width:1px;height:17.0px;background:#e4e9ea;"></div>
<div class="a" style="left:383.5px;top:514.5px;width:1px;height:17.0px;background:#e4e9ea;"></div>
<div class="a" style="left:433.0px;top:514.5px;width:1px;height:17.0px;background:#e4e9ea;"></div>
<div class="a" style="left:480.2px;top:514.5px;width:1px;height:17.0px;background:#e4e9ea;"></div>
<div class="a" style="left:530.5px;top:514.5px;width:1px;height:17.0px;background:#e4e9ea;"></div>
<div class="a" style="left:616.7px;top:514.5px;width:1px;height:17.0px;background:#e4e9ea;"></div>
<div class="a" style="left:669.7px;top:514.5px;width:1px;height:17.0px;background:#e4e9ea;"></div>
<div class="a l " style="left:37.60px;top:516.97px;height:14px;line-height:14px;font-size:10.4px;color:#262626;transform:scaleX(0.9121);transform-origin:0 50%;">JYP2-132M-8</div>
<div class="a t " style="left:92.40px;top:516.97px;width:60px;height:14px;line-height:14px;font-size:10.4px;color:#262626;transform:scaleX(0.965);">3</div>
<div class="a t " style="left:141.00px;top:516.97px;width:60px;height:14px;line-height:14px;font-size:10.4px;color:#262626;transform:scaleX(0.965);">7.9</div>
<div class="a t " style="left:192.90px;top:516.97px;width:60px;height:14px;line-height:14px;font-size:10.4px;color:#262626;transform:scaleX(0.965);">710</div>
<div class="a t " style="left:237.10px;top:516.97px;width:60px;height:14px;line-height:14px;font-size:10.4px;color:#262626;transform:scaleX(0.965);">79.0</div>
<div class="a t " style="left:281.00px;top:516.97px;width:60px;height:14px;line-height:14px;font-size:10.4px;color:#262626;transform:scaleX(0.965);">0.73</div>
<div class="a t " style="left:330.80px;top:516.97px;width:60px;height:14px;line-height:14px;font-size:10.4px;color:#262626;transform:scaleX(0.965);">38.2</div>
<div class="a t " style="left:378.60px;top:516.97px;width:60px;height:14px;line-height:14px;font-size:10.4px;color:#262626;transform:scaleX(0.965);">2.0</div>
<div class="a t " style="left:428.40px;top:516.97px;width:60px;height:14px;line-height:14px;font-size:10.4px;color:#262626;transform:scaleX(0.965);">1.8</div>
<div class="a t " style="left:475.80px;top:516.97px;width:60px;height:14px;line-height:14px;font-size:10.4px;color:#262626;transform:scaleX(0.965);">6.0</div>
<div class="a t " style="left:546.00px;top:516.97px;width:60px;height:14px;line-height:14px;font-size:10.4px;color:#262626;transform:scaleX(0.965);">64</div>
<div class="a t " style="left:616.50px;top:516.97px;width:60px;height:14px;line-height:14px;font-size:10.4px;color:#262626;transform:scaleX(0.965);">1.3</div>
<div class="a t " style="left:663.90px;top:516.97px;width:60px;height:14px;line-height:14px;font-size:10.4px;color:#262626;transform:scaleX(0.965);">51</div>
<div class="a" style="left:34.8px;top:376px;width:1px;height:155.5px;background:#d3d7d8;"></div>
<div class="a" style="left:715px;top:376px;width:1px;height:155.5px;background:#d0d3d4;"></div>
<div class="a" style="left:35.3px;top:375.7px;width:680.9000000000001px;height:1px;background:#d6dadb;"></div>
<div class="a" style="left:35.3px;top:531px;width:680.9000000000001px;height:1px;background:#d6dadb;"></div>
<div class="a" style="left:617px;top:356px;width:1px;height:20px;background:#eef1f1;"></div>
<div class="a" style="left:35.2px;top:577.2px;width:12px;height:11.8px;background:#0f949e;"></div>
<div class="a" style="left:52.3px;top:573.9px"><span class="cr" style="display:block;font-size:17.2px;line-height:17.2px;letter-spacing:1.4px;color:#333">结构参数</span></div>
<div class="a l " style="left:51.60px;top:594.57px;height:16px;line-height:16px;font-size:12.15px;color:#222;letter-spacing:.18px;-webkit-text-stroke:.2px #222;">Construction &amp; Specification</div>
<div class="a l " style="left:51.60px;top:609.27px;height:16px;line-height:16px;font-size:12.15px;color:#222;letter-spacing:.03px;-webkit-text-stroke:.2px #222;">B3:Frame with feet,</div>
<div class="a l " style="left:51.60px;top:623.97px;height:16px;line-height:16px;font-size:12.15px;color:#222;letter-spacing:.09px;-webkit-text-stroke:.2px #222;">end shield without flange.</div>
<div class="a" style="left:35.3px;top:712px;width:680.65px;height:32.7px;background:#0a98a2;"></div>
<div class="a" style="left:105.5px;top:712px;width:1px;height:32.7px;background:rgba(255,255,255,.28);"></div>
<div class="a" style="left:152.2px;top:712px;width:1px;height:32.7px;background:rgba(255,255,255,.28);"></div>
<div class="a" style="left:193.5px;top:712px;width:1px;height:32.7px;background:rgba(255,255,255,.28);"></div>
<div class="a" style="left:233.65px;top:712px;width:1px;height:32.7px;background:rgba(255,255,255,.28);"></div>
<div class="a" style="left:273.8px;top:712px;width:1px;height:32.7px;background:rgba(255,255,255,.28);"></div>
<div class="a" style="left:313.95px;top:712px;width:1px;height:32.7px;background:rgba(255,255,255,.28);"></div>
<div class="a" style="left:354.1px;top:712px;width:1px;height:32.7px;background:rgba(255,255,255,.28);"></div>
<div class="a" style="left:394.25px;top:712px;width:1px;height:32.7px;background:rgba(255,255,255,.28);"></div>
<div class="a" style="left:434.4px;top:712px;width:1px;height:32.7px;background:rgba(255,255,255,.28);"></div>
<div class="a" style="left:474.55px;top:712px;width:1px;height:32.7px;background:rgba(255,255,255,.28);"></div>
<div class="a" style="left:514.7px;top:712px;width:1px;height:32.7px;background:rgba(255,255,255,.28);"></div>
<div class="a" style="left:554.8499999999999px;top:712px;width:1px;height:32.7px;background:rgba(255,255,255,.28);"></div>
<div class="a" style="left:595.0px;top:712px;width:1px;height:32.7px;background:rgba(255,255,255,.28);"></div>
<div class="a" style="left:635.15px;top:712px;width:1px;height:32.7px;background:rgba(255,255,255,.28);"></div>
<div class="a" style="left:675.3px;top:712px;width:1px;height:32.7px;background:rgba(255,255,255,.28);"></div>
<div class="a t " style="left:10.65px;top:715.77px;width:120px;height:13px;line-height:13px;font-size:10px;color:#fff;"><span class="cb" style="font-size:9.6px">机座号</span></div>
<div class="a t " style="left:10.65px;top:730.47px;width:120px;height:13px;line-height:13px;font-size:10px;color:#fff;">FRAME SIZE</div>
<div class="a t " style="left:69.35px;top:715.77px;width:120px;height:13px;line-height:13px;font-size:10px;color:#fff;"><span class="cb" style="font-size:9.6px">极数</span></div>
<div class="a t " style="left:69.35px;top:729.47px;width:120px;height:13px;line-height:13px;font-size:10px;color:#fff;">POLE</div>
<div class="a t " style="left:113.35px;top:723.27px;width:120px;height:13px;line-height:13px;font-size:10px;color:#fff;">A</div>
<div class="a t " style="left:154.07px;top:723.27px;width:120px;height:13px;line-height:13px;font-size:10px;color:#fff;">A/2</div>
<div class="a t " style="left:194.23px;top:723.27px;width:120px;height:13px;line-height:13px;font-size:10px;color:#fff;">B</div>
<div class="a t " style="left:234.38px;top:723.27px;width:120px;height:13px;line-height:13px;font-size:10px;color:#fff;">C</div>
<div class="a t " style="left:274.52px;top:723.27px;width:120px;height:13px;line-height:13px;font-size:10px;color:#fff;">D</div>
<div class="a t " style="left:314.68px;top:723.27px;width:120px;height:13px;line-height:13px;font-size:10px;color:#fff;">E</div>
<div class="a t " style="left:354.82px;top:723.27px;width:120px;height:13px;line-height:13px;font-size:10px;color:#fff;">F</div>
<div class="a t " style="left:394.98px;top:723.27px;width:120px;height:13px;line-height:13px;font-size:10px;color:#fff;">G</div>
<div class="a t " style="left:435.12px;top:723.27px;width:120px;height:13px;line-height:13px;font-size:10px;color:#fff;">H</div>
<div class="a t " style="left:475.27px;top:723.27px;width:120px;height:13px;line-height:13px;font-size:10px;color:#fff;">K</div>
<div class="a t " style="left:515.42px;top:723.27px;width:120px;height:13px;line-height:13px;font-size:10px;color:#fff;">AB</div>
<div class="a t " style="left:555.58px;top:723.27px;width:120px;height:13px;line-height:13px;font-size:10px;color:#fff;">AC</div>
<div class="a t " style="left:595.72px;top:723.27px;width:120px;height:13px;line-height:13px;font-size:10px;color:#fff;">HD</div>
<div class="a t " style="left:635.88px;top:723.27px;width:120px;height:13px;line-height:13px;font-size:10px;color:#fff;">L</div>
<div class="a" style="left:105.5px;top:744.7px;width:1px;height:21.799999999999955px;background:#e3e6e7;"></div>
<div class="a" style="left:152.2px;top:744.7px;width:1px;height:21.799999999999955px;background:#e3e6e7;"></div>
<div class="a" style="left:193.5px;top:744.7px;width:1px;height:21.799999999999955px;background:#e3e6e7;"></div>
<div class="a" style="left:233.65px;top:744.7px;width:1px;height:21.799999999999955px;background:#e3e6e7;"></div>
<div class="a" style="left:273.8px;top:744.7px;width:1px;height:21.799999999999955px;background:#e3e6e7;"></div>
<div class="a" style="left:313.95px;top:744.7px;width:1px;height:21.799999999999955px;background:#e3e6e7;"></div>
<div class="a" style="left:354.1px;top:744.7px;width:1px;height:21.799999999999955px;background:#e3e6e7;"></div>
<div class="a" style="left:394.25px;top:744.7px;width:1px;height:21.799999999999955px;background:#e3e6e7;"></div>
<div class="a" style="left:434.4px;top:744.7px;width:1px;height:21.799999999999955px;background:#e3e6e7;"></div>
<div class="a" style="left:474.55px;top:744.7px;width:1px;height:21.799999999999955px;background:#e3e6e7;"></div>
<div class="a" style="left:514.7px;top:744.7px;width:1px;height:21.799999999999955px;background:#e3e6e7;"></div>
<div class="a" style="left:554.8499999999999px;top:744.7px;width:1px;height:21.799999999999955px;background:#e3e6e7;"></div>
<div class="a" style="left:595.0px;top:744.7px;width:1px;height:21.799999999999955px;background:#e3e6e7;"></div>
<div class="a" style="left:635.15px;top:744.7px;width:1px;height:21.799999999999955px;background:#e3e6e7;"></div>
<div class="a" style="left:675.3px;top:744.7px;width:1px;height:21.799999999999955px;background:#e3e6e7;"></div>
<div class="a t " style="left:35.65px;top:750.97px;width:70px;height:13px;line-height:13px;font-size:10.2px;color:#262626;">63M</div>
<div class="a t " style="left:94.35px;top:750.97px;width:70px;height:13px;line-height:13px;font-size:10.2px;color:#262626;">2.4</div>
<div class="a t " style="left:138.35px;top:750.97px;width:70px;height:13px;line-height:13px;font-size:10.2px;color:#262626;">100</div>
<div class="a t " style="left:179.07px;top:750.97px;width:70px;height:13px;line-height:13px;font-size:10.2px;color:#262626;">50</div>
<div class="a t " style="left:219.23px;top:750.97px;width:70px;height:13px;line-height:13px;font-size:10.2px;color:#262626;">80</div>
<div class="a t " style="left:259.38px;top:750.97px;width:70px;height:13px;line-height:13px;font-size:10.2px;color:#262626;">40</div>
<div class="a t " style="left:299.52px;top:750.97px;width:70px;height:13px;line-height:13px;font-size:10.2px;color:#262626;">11</div>
<div class="a t " style="left:339.68px;top:750.97px;width:70px;height:13px;line-height:13px;font-size:10.2px;color:#262626;">23</div>
<div class="a t " style="left:379.82px;top:750.97px;width:70px;height:13px;line-height:13px;font-size:10.2px;color:#262626;">4</div>
<div class="a t " style="left:419.98px;top:750.97px;width:70px;height:13px;line-height:13px;font-size:10.2px;color:#262626;">8.5</div>
<div class="a t " style="left:460.12px;top:750.97px;width:70px;height:13px;line-height:13px;font-size:10.2px;color:#262626;">63</div>
<div class="a t " style="left:500.27px;top:750.97px;width:70px;height:13px;line-height:13px;font-size:10.2px;color:#262626;">7</div>
<div class="a t " style="left:540.42px;top:750.97px;width:70px;height:13px;line-height:13px;font-size:10.2px;color:#262626;">135</div>
<div class="a t " style="left:580.58px;top:750.97px;width:70px;height:13px;line-height:13px;font-size:10.2px;color:#262626;">130</div>
<div class="a t " style="left:620.72px;top:750.97px;width:70px;height:13px;line-height:13px;font-size:10.2px;color:#262626;">180</div>
<div class="a t " style="left:660.88px;top:750.97px;width:70px;height:13px;line-height:13px;font-size:10.2px;color:#262626;">225</div>
<div class="a" style="left:35.3px;top:766.5px;width:680.65px;height:23.200000000000045px;background:#b1dde5;"></div>
<div class="a" style="left:105.5px;top:766.5px;width:1px;height:23.200000000000045px;background:rgba(150,170,175,.22);"></div>
<div class="a" style="left:152.2px;top:766.5px;width:1px;height:23.200000000000045px;background:rgba(150,170,175,.22);"></div>
<div class="a" style="left:193.5px;top:766.5px;width:1px;height:23.200000000000045px;background:rgba(150,170,175,.22);"></div>
<div class="a" style="left:233.65px;top:766.5px;width:1px;height:23.200000000000045px;background:rgba(150,170,175,.22);"></div>
<div class="a" style="left:273.8px;top:766.5px;width:1px;height:23.200000000000045px;background:rgba(150,170,175,.22);"></div>
<div class="a" style="left:313.95px;top:766.5px;width:1px;height:23.200000000000045px;background:rgba(150,170,175,.22);"></div>
<div class="a" style="left:354.1px;top:766.5px;width:1px;height:23.200000000000045px;background:rgba(150,170,175,.22);"></div>
<div class="a" style="left:394.25px;top:766.5px;width:1px;height:23.200000000000045px;background:rgba(150,170,175,.22);"></div>
<div class="a" style="left:434.4px;top:766.5px;width:1px;height:23.200000000000045px;background:rgba(150,170,175,.22);"></div>
<div class="a" style="left:474.55px;top:766.5px;width:1px;height:23.200000000000045px;background:rgba(150,170,175,.22);"></div>
<div class="a" style="left:514.7px;top:766.5px;width:1px;height:23.200000000000045px;background:rgba(150,170,175,.22);"></div>
<div class="a" style="left:554.8499999999999px;top:766.5px;width:1px;height:23.200000000000045px;background:rgba(150,170,175,.22);"></div>
<div class="a" style="left:595.0px;top:766.5px;width:1px;height:23.200000000000045px;background:rgba(150,170,175,.22);"></div>
<div class="a" style="left:635.15px;top:766.5px;width:1px;height:23.200000000000045px;background:rgba(150,170,175,.22);"></div>
<div class="a" style="left:675.3px;top:766.5px;width:1px;height:23.200000000000045px;background:rgba(150,170,175,.22);"></div>
<div class="a t " style="left:35.65px;top:773.67px;width:70px;height:13px;line-height:13px;font-size:10.2px;color:#262626;">71M</div>
<div class="a t " style="left:94.35px;top:773.67px;width:70px;height:13px;line-height:13px;font-size:10.2px;color:#262626;">2.4.6</div>
<div class="a t " style="left:138.35px;top:773.67px;width:70px;height:13px;line-height:13px;font-size:10.2px;color:#262626;">112</div>
<div class="a t " style="left:179.07px;top:773.67px;width:70px;height:13px;line-height:13px;font-size:10.2px;color:#262626;">56</div>
<div class="a t " style="left:219.23px;top:773.67px;width:70px;height:13px;line-height:13px;font-size:10.2px;color:#262626;">90</div>
<div class="a t " style="left:259.38px;top:773.67px;width:70px;height:13px;line-height:13px;font-size:10.2px;color:#262626;">45</div>
<div class="a t " style="left:299.52px;top:773.67px;width:70px;height:13px;line-height:13px;font-size:10.2px;color:#262626;">14</div>
<div class="a t " style="left:339.68px;top:773.67px;width:70px;height:13px;line-height:13px;font-size:10.2px;color:#262626;">30</div>
<div class="a t " style="left:379.82px;top:773.67px;width:70px;height:13px;line-height:13px;font-size:10.2px;color:#262626;">5</div>
<div class="a t " style="left:419.98px;top:773.67px;width:70px;height:13px;line-height:13px;font-size:10.2px;color:#262626;">11</div>
<div class="a t " style="left:460.12px;top:773.67px;width:70px;height:13px;line-height:13px;font-size:10.2px;color:#262626;">71</div>
<div class="a t " style="left:500.27px;top:773.67px;width:70px;height:13px;line-height:13px;font-size:10.2px;color:#262626;">7</div>
<div class="a t " style="left:540.42px;top:773.67px;width:70px;height:13px;line-height:13px;font-size:10.2px;color:#262626;">150</div>
<div class="a t " style="left:580.58px;top:773.67px;width:70px;height:13px;line-height:13px;font-size:10.2px;color:#262626;">145</div>
<div class="a t " style="left:620.72px;top:773.67px;width:70px;height:13px;line-height:13px;font-size:10.2px;color:#262626;">195</div>
<div class="a t " style="left:660.88px;top:773.67px;width:70px;height:13px;line-height:13px;font-size:10.2px;color:#262626;">250</div>
<div class="a" style="left:105.5px;top:789.7px;width:1px;height:23.299999999999955px;background:#e3e6e7;"></div>
<div class="a" style="left:152.2px;top:789.7px;width:1px;height:23.299999999999955px;background:#e3e6e7;"></div>
<div class="a" style="left:193.5px;top:789.7px;width:1px;height:23.299999999999955px;background:#e3e6e7;"></div>
<div class="a" style="left:233.65px;top:789.7px;width:1px;height:23.299999999999955px;background:#e3e6e7;"></div>
<div class="a" style="left:273.8px;top:789.7px;width:1px;height:23.299999999999955px;background:#e3e6e7;"></div>
<div class="a" style="left:313.95px;top:789.7px;width:1px;height:23.299999999999955px;background:#e3e6e7;"></div>
<div class="a" style="left:354.1px;top:789.7px;width:1px;height:23.299999999999955px;background:#e3e6e7;"></div>
<div class="a" style="left:394.25px;top:789.7px;width:1px;height:23.299999999999955px;background:#e3e6e7;"></div>
<div class="a" style="left:434.4px;top:789.7px;width:1px;height:23.299999999999955px;background:#e3e6e7;"></div>
<div class="a" style="left:474.55px;top:789.7px;width:1px;height:23.299999999999955px;background:#e3e6e7;"></div>
<div class="a" style="left:514.7px;top:789.7px;width:1px;height:23.299999999999955px;background:#e3e6e7;"></div>
<div class="a" style="left:554.8499999999999px;top:789.7px;width:1px;height:23.299999999999955px;background:#e3e6e7;"></div>
<div class="a" style="left:595.0px;top:789.7px;width:1px;height:23.299999999999955px;background:#e3e6e7;"></div>
<div class="a" style="left:635.15px;top:789.7px;width:1px;height:23.299999999999955px;background:#e3e6e7;"></div>
<div class="a" style="left:675.3px;top:789.7px;width:1px;height:23.299999999999955px;background:#e3e6e7;"></div>
<div class="a t " style="left:35.65px;top:796.97px;width:70px;height:13px;line-height:13px;font-size:10.2px;color:#262626;">80M</div>
<div class="a t " style="left:94.35px;top:796.97px;width:70px;height:13px;line-height:13px;font-size:10.2px;color:#262626;">2.4.6.8</div>
<div class="a t " style="left:138.35px;top:796.97px;width:70px;height:13px;line-height:13px;font-size:10.2px;color:#262626;">125</div>
<div class="a t " style="left:179.07px;top:796.97px;width:70px;height:13px;line-height:13px;font-size:10.2px;color:#262626;">62.5</div>
<div class="a t " style="left:219.23px;top:796.97px;width:70px;height:13px;line-height:13px;font-size:10.2px;color:#262626;">100</div>
<div class="a t " style="left:259.38px;top:796.97px;width:70px;height:13px;line-height:13px;font-size:10.2px;color:#262626;">50</div>
<div class="a t " style="left:299.52px;top:796.97px;width:70px;height:13px;line-height:13px;font-size:10.2px;color:#262626;">19</div>
<div class="a t " style="left:339.68px;top:796.97px;width:70px;height:13px;line-height:13px;font-size:10.2px;color:#262626;">40</div>
<div class="a t " style="left:379.82px;top:796.97px;width:70px;height:13px;line-height:13px;font-size:10.2px;color:#262626;">6</div>
<div class="a t " style="left:419.98px;top:796.97px;width:70px;height:13px;line-height:13px;font-size:10.2px;color:#262626;">15.5</div>
<div class="a t " style="left:460.12px;top:796.97px;width:70px;height:13px;line-height:13px;font-size:10.2px;color:#262626;">80</div>
<div class="a t " style="left:500.27px;top:796.97px;width:70px;height:13px;line-height:13px;font-size:10.2px;color:#262626;">10</div>
<div class="a t " style="left:540.42px;top:796.97px;width:70px;height:13px;line-height:13px;font-size:10.2px;color:#262626;">165</div>
<div class="a t " style="left:580.58px;top:796.97px;width:70px;height:13px;line-height:13px;font-size:10.2px;color:#262626;">175</div>
<div class="a t " style="left:620.72px;top:796.97px;width:70px;height:13px;line-height:13px;font-size:10.2px;color:#262626;">214</div>
<div class="a t " style="left:660.88px;top:796.97px;width:70px;height:13px;line-height:13px;font-size:10.2px;color:#262626;">295</div>
<div class="a" style="left:35.3px;top:813px;width:680.65px;height:23.399999999999977px;background:#b1dde5;"></div>
<div class="a" style="left:105.5px;top:813px;width:1px;height:23.399999999999977px;background:rgba(150,170,175,.22);"></div>
<div class="a" style="left:152.2px;top:813px;width:1px;height:23.399999999999977px;background:rgba(150,170,175,.22);"></div>
<div class="a" style="left:193.5px;top:813px;width:1px;height:23.399999999999977px;background:rgba(150,170,175,.22);"></div>
<div class="a" style="left:233.65px;top:813px;width:1px;height:23.399999999999977px;background:rgba(150,170,175,.22);"></div>
<div class="a" style="left:273.8px;top:813px;width:1px;height:23.399999999999977px;background:rgba(150,170,175,.22);"></div>
<div class="a" style="left:313.95px;top:813px;width:1px;height:23.399999999999977px;background:rgba(150,170,175,.22);"></div>
<div class="a" style="left:354.1px;top:813px;width:1px;height:23.399999999999977px;background:rgba(150,170,175,.22);"></div>
<div class="a" style="left:394.25px;top:813px;width:1px;height:23.399999999999977px;background:rgba(150,170,175,.22);"></div>
<div class="a" style="left:434.4px;top:813px;width:1px;height:23.399999999999977px;background:rgba(150,170,175,.22);"></div>
<div class="a" style="left:474.55px;top:813px;width:1px;height:23.399999999999977px;background:rgba(150,170,175,.22);"></div>
<div class="a" style="left:514.7px;top:813px;width:1px;height:23.399999999999977px;background:rgba(150,170,175,.22);"></div>
<div class="a" style="left:554.8499999999999px;top:813px;width:1px;height:23.399999999999977px;background:rgba(150,170,175,.22);"></div>
<div class="a" style="left:595.0px;top:813px;width:1px;height:23.399999999999977px;background:rgba(150,170,175,.22);"></div>
<div class="a" style="left:635.15px;top:813px;width:1px;height:23.399999999999977px;background:rgba(150,170,175,.22);"></div>
<div class="a" style="left:675.3px;top:813px;width:1px;height:23.399999999999977px;background:rgba(150,170,175,.22);"></div>
<div class="a t " style="left:35.65px;top:819.37px;width:70px;height:13px;line-height:13px;font-size:10.2px;color:#262626;">90S</div>
<div class="a t " style="left:94.35px;top:819.37px;width:70px;height:13px;line-height:13px;font-size:10.2px;color:#262626;">2.4.6.8</div>
<div class="a t " style="left:138.35px;top:819.37px;width:70px;height:13px;line-height:13px;font-size:10.2px;color:#262626;">140</div>
<div class="a t " style="left:179.07px;top:819.37px;width:70px;height:13px;line-height:13px;font-size:10.2px;color:#262626;">70</div>
<div class="a t " style="left:219.23px;top:819.37px;width:70px;height:13px;line-height:13px;font-size:10.2px;color:#262626;">100</div>
<div class="a t " style="left:259.38px;top:819.37px;width:70px;height:13px;line-height:13px;font-size:10.2px;color:#262626;">56</div>
<div class="a t " style="left:299.52px;top:819.37px;width:70px;height:13px;line-height:13px;font-size:10.2px;color:#262626;">24</div>
<div class="a t " style="left:339.68px;top:819.37px;width:70px;height:13px;line-height:13px;font-size:10.2px;color:#262626;">50</div>
<div class="a t " style="left:379.82px;top:819.37px;width:70px;height:13px;line-height:13px;font-size:10.2px;color:#262626;">8</div>
<div class="a t " style="left:419.98px;top:819.37px;width:70px;height:13px;line-height:13px;font-size:10.2px;color:#262626;">20</div>
<div class="a t " style="left:460.12px;top:819.37px;width:70px;height:13px;line-height:13px;font-size:10.2px;color:#262626;">90</div>
<div class="a t " style="left:500.27px;top:819.37px;width:70px;height:13px;line-height:13px;font-size:10.2px;color:#262626;">10</div>
<div class="a t " style="left:540.42px;top:819.37px;width:70px;height:13px;line-height:13px;font-size:10.2px;color:#262626;">180</div>
<div class="a t " style="left:580.58px;top:819.37px;width:70px;height:13px;line-height:13px;font-size:10.2px;color:#262626;">195</div>
<div class="a t " style="left:620.72px;top:819.37px;width:70px;height:13px;line-height:13px;font-size:10.2px;color:#262626;">250</div>
<div class="a t " style="left:660.88px;top:819.37px;width:70px;height:13px;line-height:13px;font-size:10.2px;color:#262626;">315</div>
<div class="a" style="left:105.5px;top:836.4px;width:1px;height:23.600000000000023px;background:#e3e6e7;"></div>
<div class="a" style="left:152.2px;top:836.4px;width:1px;height:23.600000000000023px;background:#e3e6e7;"></div>
<div class="a" style="left:193.5px;top:836.4px;width:1px;height:23.600000000000023px;background:#e3e6e7;"></div>
<div class="a" style="left:233.65px;top:836.4px;width:1px;height:23.600000000000023px;background:#e3e6e7;"></div>
<div class="a" style="left:273.8px;top:836.4px;width:1px;height:23.600000000000023px;background:#e3e6e7;"></div>
<div class="a" style="left:313.95px;top:836.4px;width:1px;height:23.600000000000023px;background:#e3e6e7;"></div>
<div class="a" style="left:354.1px;top:836.4px;width:1px;height:23.600000000000023px;background:#e3e6e7;"></div>
<div class="a" style="left:394.25px;top:836.4px;width:1px;height:23.600000000000023px;background:#e3e6e7;"></div>
<div class="a" style="left:434.4px;top:836.4px;width:1px;height:23.600000000000023px;background:#e3e6e7;"></div>
<div class="a" style="left:474.55px;top:836.4px;width:1px;height:23.600000000000023px;background:#e3e6e7;"></div>
<div class="a" style="left:514.7px;top:836.4px;width:1px;height:23.600000000000023px;background:#e3e6e7;"></div>
<div class="a" style="left:554.8499999999999px;top:836.4px;width:1px;height:23.600000000000023px;background:#e3e6e7;"></div>
<div class="a" style="left:595.0px;top:836.4px;width:1px;height:23.600000000000023px;background:#e3e6e7;"></div>
<div class="a" style="left:635.15px;top:836.4px;width:1px;height:23.600000000000023px;background:#e3e6e7;"></div>
<div class="a" style="left:675.3px;top:836.4px;width:1px;height:23.600000000000023px;background:#e3e6e7;"></div>
<div class="a t " style="left:35.65px;top:843.27px;width:70px;height:13px;line-height:13px;font-size:10.2px;color:#262626;">90L</div>
<div class="a t " style="left:94.35px;top:843.27px;width:70px;height:13px;line-height:13px;font-size:10.2px;color:#262626;">2.4.6.8</div>
<div class="a t " style="left:138.35px;top:843.27px;width:70px;height:13px;line-height:13px;font-size:10.2px;color:#262626;">140</div>
<div class="a t " style="left:179.07px;top:843.27px;width:70px;height:13px;line-height:13px;font-size:10.2px;color:#262626;">70</div>
<div class="a t " style="left:219.23px;top:843.27px;width:70px;height:13px;line-height:13px;font-size:10.2px;color:#262626;">125</div>
<div class="a t " style="left:259.38px;top:843.27px;width:70px;height:13px;line-height:13px;font-size:10.2px;color:#262626;">56</div>
<div class="a t " style="left:299.52px;top:843.27px;width:70px;height:13px;line-height:13px;font-size:10.2px;color:#262626;">24</div>
<div class="a t " style="left:339.68px;top:843.27px;width:70px;height:13px;line-height:13px;font-size:10.2px;color:#262626;">50</div>
<div class="a t " style="left:379.82px;top:843.27px;width:70px;height:13px;line-height:13px;font-size:10.2px;color:#262626;">8</div>
<div class="a t " style="left:419.98px;top:843.27px;width:70px;height:13px;line-height:13px;font-size:10.2px;color:#262626;">20</div>
<div class="a t " style="left:460.12px;top:843.27px;width:70px;height:13px;line-height:13px;font-size:10.2px;color:#262626;">90</div>
<div class="a t " style="left:500.27px;top:843.27px;width:70px;height:13px;line-height:13px;font-size:10.2px;color:#262626;">10</div>
<div class="a t " style="left:540.42px;top:843.27px;width:70px;height:13px;line-height:13px;font-size:10.2px;color:#262626;">180</div>
<div class="a t " style="left:580.58px;top:843.27px;width:70px;height:13px;line-height:13px;font-size:10.2px;color:#262626;">195</div>
<div class="a t " style="left:620.72px;top:843.27px;width:70px;height:13px;line-height:13px;font-size:10.2px;color:#262626;">250</div>
<div class="a t " style="left:660.88px;top:843.27px;width:70px;height:13px;line-height:13px;font-size:10.2px;color:#262626;">340</div>
<div class="a" style="left:35.3px;top:860px;width:680.65px;height:23.399999999999977px;background:#b1dde5;"></div>
<div class="a" style="left:105.5px;top:860px;width:1px;height:23.399999999999977px;background:rgba(150,170,175,.22);"></div>
<div class="a" style="left:152.2px;top:860px;width:1px;height:23.399999999999977px;background:rgba(150,170,175,.22);"></div>
<div class="a" style="left:193.5px;top:860px;width:1px;height:23.399999999999977px;background:rgba(150,170,175,.22);"></div>
<div class="a" style="left:233.65px;top:860px;width:1px;height:23.399999999999977px;background:rgba(150,170,175,.22);"></div>
<div class="a" style="left:273.8px;top:860px;width:1px;height:23.399999999999977px;background:rgba(150,170,175,.22);"></div>
<div class="a" style="left:313.95px;top:860px;width:1px;height:23.399999999999977px;background:rgba(150,170,175,.22);"></div>
<div class="a" style="left:354.1px;top:860px;width:1px;height:23.399999999999977px;background:rgba(150,170,175,.22);"></div>
<div class="a" style="left:394.25px;top:860px;width:1px;height:23.399999999999977px;background:rgba(150,170,175,.22);"></div>
<div class="a" style="left:434.4px;top:860px;width:1px;height:23.399999999999977px;background:rgba(150,170,175,.22);"></div>
<div class="a" style="left:474.55px;top:860px;width:1px;height:23.399999999999977px;background:rgba(150,170,175,.22);"></div>
<div class="a" style="left:514.7px;top:860px;width:1px;height:23.399999999999977px;background:rgba(150,170,175,.22);"></div>
<div class="a" style="left:554.8499999999999px;top:860px;width:1px;height:23.399999999999977px;background:rgba(150,170,175,.22);"></div>
<div class="a" style="left:595.0px;top:860px;width:1px;height:23.399999999999977px;background:rgba(150,170,175,.22);"></div>
<div class="a" style="left:635.15px;top:860px;width:1px;height:23.399999999999977px;background:rgba(150,170,175,.22);"></div>
<div class="a" style="left:675.3px;top:860px;width:1px;height:23.399999999999977px;background:rgba(150,170,175,.22);"></div>
<div class="a t " style="left:35.65px;top:866.37px;width:70px;height:13px;line-height:13px;font-size:10.2px;color:#262626;">100L</div>
<div class="a t " style="left:94.35px;top:866.37px;width:70px;height:13px;line-height:13px;font-size:10.2px;color:#262626;">2.4.6.8</div>
<div class="a t " style="left:138.35px;top:866.37px;width:70px;height:13px;line-height:13px;font-size:10.2px;color:#262626;">160</div>
<div class="a t " style="left:179.07px;top:866.37px;width:70px;height:13px;line-height:13px;font-size:10.2px;color:#262626;">80</div>
<div class="a t " style="left:219.23px;top:866.37px;width:70px;height:13px;line-height:13px;font-size:10.2px;color:#262626;">140</div>
<div class="a t " style="left:259.38px;top:866.37px;width:70px;height:13px;line-height:13px;font-size:10.2px;color:#262626;">63</div>
<div class="a t " style="left:299.52px;top:866.37px;width:70px;height:13px;line-height:13px;font-size:10.2px;color:#262626;">28</div>
<div class="a t " style="left:339.68px;top:866.37px;width:70px;height:13px;line-height:13px;font-size:10.2px;color:#262626;">60</div>
<div class="a t " style="left:379.82px;top:866.37px;width:70px;height:13px;line-height:13px;font-size:10.2px;color:#262626;">8</div>
<div class="a t " style="left:419.98px;top:866.37px;width:70px;height:13px;line-height:13px;font-size:10.2px;color:#262626;">24</div>
<div class="a t " style="left:460.12px;top:866.37px;width:70px;height:13px;line-height:13px;font-size:10.2px;color:#262626;">100</div>
<div class="a t " style="left:500.27px;top:866.37px;width:70px;height:13px;line-height:13px;font-size:10.2px;color:#262626;">12</div>
<div class="a t " style="left:540.42px;top:866.37px;width:70px;height:13px;line-height:13px;font-size:10.2px;color:#262626;">205</div>
<div class="a t " style="left:580.58px;top:866.37px;width:70px;height:13px;line-height:13px;font-size:10.2px;color:#262626;">215</div>
<div class="a t " style="left:620.72px;top:866.37px;width:70px;height:13px;line-height:13px;font-size:10.2px;color:#262626;">270</div>
<div class="a t " style="left:660.88px;top:866.37px;width:70px;height:13px;line-height:13px;font-size:10.2px;color:#262626;">385</div>
<div class="a" style="left:105.5px;top:883.4px;width:1px;height:23.399999999999977px;background:#e3e6e7;"></div>
<div class="a" style="left:152.2px;top:883.4px;width:1px;height:23.399999999999977px;background:#e3e6e7;"></div>
<div class="a" style="left:193.5px;top:883.4px;width:1px;height:23.399999999999977px;background:#e3e6e7;"></div>
<div class="a" style="left:233.65px;top:883.4px;width:1px;height:23.399999999999977px;background:#e3e6e7;"></div>
<div class="a" style="left:273.8px;top:883.4px;width:1px;height:23.399999999999977px;background:#e3e6e7;"></div>
<div class="a" style="left:313.95px;top:883.4px;width:1px;height:23.399999999999977px;background:#e3e6e7;"></div>
<div class="a" style="left:354.1px;top:883.4px;width:1px;height:23.399999999999977px;background:#e3e6e7;"></div>
<div class="a" style="left:394.25px;top:883.4px;width:1px;height:23.399999999999977px;background:#e3e6e7;"></div>
<div class="a" style="left:434.4px;top:883.4px;width:1px;height:23.399999999999977px;background:#e3e6e7;"></div>
<div class="a" style="left:474.55px;top:883.4px;width:1px;height:23.399999999999977px;background:#e3e6e7;"></div>
<div class="a" style="left:514.7px;top:883.4px;width:1px;height:23.399999999999977px;background:#e3e6e7;"></div>
<div class="a" style="left:554.8499999999999px;top:883.4px;width:1px;height:23.399999999999977px;background:#e3e6e7;"></div>
<div class="a" style="left:595.0px;top:883.4px;width:1px;height:23.399999999999977px;background:#e3e6e7;"></div>
<div class="a" style="left:635.15px;top:883.4px;width:1px;height:23.399999999999977px;background:#e3e6e7;"></div>
<div class="a" style="left:675.3px;top:883.4px;width:1px;height:23.399999999999977px;background:#e3e6e7;"></div>
<div class="a t " style="left:35.65px;top:889.37px;width:70px;height:13px;line-height:13px;font-size:10.2px;color:#262626;">112M</div>
<div class="a t " style="left:94.35px;top:889.37px;width:70px;height:13px;line-height:13px;font-size:10.2px;color:#262626;">2.4.6.8</div>
<div class="a t " style="left:138.35px;top:889.37px;width:70px;height:13px;line-height:13px;font-size:10.2px;color:#262626;">190</div>
<div class="a t " style="left:179.07px;top:889.37px;width:70px;height:13px;line-height:13px;font-size:10.2px;color:#262626;">95</div>
<div class="a t " style="left:219.23px;top:889.37px;width:70px;height:13px;line-height:13px;font-size:10.2px;color:#262626;">140</div>
<div class="a t " style="left:259.38px;top:889.37px;width:70px;height:13px;line-height:13px;font-size:10.2px;color:#262626;">70</div>
<div class="a t " style="left:299.52px;top:889.37px;width:70px;height:13px;line-height:13px;font-size:10.2px;color:#262626;">28</div>
<div class="a t " style="left:339.68px;top:889.37px;width:70px;height:13px;line-height:13px;font-size:10.2px;color:#262626;">60</div>
<div class="a t " style="left:379.82px;top:889.37px;width:70px;height:13px;line-height:13px;font-size:10.2px;color:#262626;">8</div>
<div class="a t " style="left:419.98px;top:889.37px;width:70px;height:13px;line-height:13px;font-size:10.2px;color:#262626;">24</div>
<div class="a t " style="left:460.12px;top:889.37px;width:70px;height:13px;line-height:13px;font-size:10.2px;color:#262626;">112</div>
<div class="a t " style="left:500.27px;top:889.37px;width:70px;height:13px;line-height:13px;font-size:10.2px;color:#262626;">12</div>
<div class="a t " style="left:540.42px;top:889.37px;width:70px;height:13px;line-height:13px;font-size:10.2px;color:#262626;">230</div>
<div class="a t " style="left:580.58px;top:889.37px;width:70px;height:13px;line-height:13px;font-size:10.2px;color:#262626;">240</div>
<div class="a t " style="left:620.72px;top:889.37px;width:70px;height:13px;line-height:13px;font-size:10.2px;color:#262626;">300</div>
<div class="a t " style="left:660.88px;top:889.37px;width:70px;height:13px;line-height:13px;font-size:10.2px;color:#262626;">400</div>
<div class="a" style="left:35.3px;top:906.8px;width:680.65px;height:23.600000000000023px;background:#b1dde5;"></div>
<div class="a" style="left:105.5px;top:906.8px;width:1px;height:23.600000000000023px;background:rgba(150,170,175,.22);"></div>
<div class="a" style="left:152.2px;top:906.8px;width:1px;height:23.600000000000023px;background:rgba(150,170,175,.22);"></div>
<div class="a" style="left:193.5px;top:906.8px;width:1px;height:23.600000000000023px;background:rgba(150,170,175,.22);"></div>
<div class="a" style="left:233.65px;top:906.8px;width:1px;height:23.600000000000023px;background:rgba(150,170,175,.22);"></div>
<div class="a" style="left:273.8px;top:906.8px;width:1px;height:23.600000000000023px;background:rgba(150,170,175,.22);"></div>
<div class="a" style="left:313.95px;top:906.8px;width:1px;height:23.600000000000023px;background:rgba(150,170,175,.22);"></div>
<div class="a" style="left:354.1px;top:906.8px;width:1px;height:23.600000000000023px;background:rgba(150,170,175,.22);"></div>
<div class="a" style="left:394.25px;top:906.8px;width:1px;height:23.600000000000023px;background:rgba(150,170,175,.22);"></div>
<div class="a" style="left:434.4px;top:906.8px;width:1px;height:23.600000000000023px;background:rgba(150,170,175,.22);"></div>
<div class="a" style="left:474.55px;top:906.8px;width:1px;height:23.600000000000023px;background:rgba(150,170,175,.22);"></div>
<div class="a" style="left:514.7px;top:906.8px;width:1px;height:23.600000000000023px;background:rgba(150,170,175,.22);"></div>
<div class="a" style="left:554.8499999999999px;top:906.8px;width:1px;height:23.600000000000023px;background:rgba(150,170,175,.22);"></div>
<div class="a" style="left:595.0px;top:906.8px;width:1px;height:23.600000000000023px;background:rgba(150,170,175,.22);"></div>
<div class="a" style="left:635.15px;top:906.8px;width:1px;height:23.600000000000023px;background:rgba(150,170,175,.22);"></div>
<div class="a" style="left:675.3px;top:906.8px;width:1px;height:23.600000000000023px;background:rgba(150,170,175,.22);"></div>
<div class="a t " style="left:35.65px;top:912.17px;width:70px;height:13px;line-height:13px;font-size:10.2px;color:#262626;">132S</div>
<div class="a t " style="left:94.35px;top:912.17px;width:70px;height:13px;line-height:13px;font-size:10.2px;color:#262626;">2.4.6.8</div>
<div class="a t " style="left:138.35px;top:912.17px;width:70px;height:13px;line-height:13px;font-size:10.2px;color:#262626;">216</div>
<div class="a t " style="left:179.07px;top:912.17px;width:70px;height:13px;line-height:13px;font-size:10.2px;color:#262626;">108</div>
<div class="a t " style="left:219.23px;top:912.17px;width:70px;height:13px;line-height:13px;font-size:10.2px;color:#262626;">140</div>
<div class="a t " style="left:259.38px;top:912.17px;width:70px;height:13px;line-height:13px;font-size:10.2px;color:#262626;">89</div>
<div class="a t " style="left:299.52px;top:912.17px;width:70px;height:13px;line-height:13px;font-size:10.2px;color:#262626;">38</div>
<div class="a t " style="left:339.68px;top:912.17px;width:70px;height:13px;line-height:13px;font-size:10.2px;color:#262626;">80</div>
<div class="a t " style="left:379.82px;top:912.17px;width:70px;height:13px;line-height:13px;font-size:10.2px;color:#262626;">10</div>
<div class="a t " style="left:419.98px;top:912.17px;width:70px;height:13px;line-height:13px;font-size:10.2px;color:#262626;">33</div>
<div class="a t " style="left:460.12px;top:912.17px;width:70px;height:13px;line-height:13px;font-size:10.2px;color:#262626;">132</div>
<div class="a t " style="left:500.27px;top:912.17px;width:70px;height:13px;line-height:13px;font-size:10.2px;color:#262626;">12</div>
<div class="a t " style="left:540.42px;top:912.17px;width:70px;height:13px;line-height:13px;font-size:10.2px;color:#262626;">270</div>
<div class="a t " style="left:580.58px;top:912.17px;width:70px;height:13px;line-height:13px;font-size:10.2px;color:#262626;">275</div>
<div class="a t " style="left:620.72px;top:912.17px;width:70px;height:13px;line-height:13px;font-size:10.2px;color:#262626;">345</div>
<div class="a t " style="left:660.88px;top:912.17px;width:70px;height:13px;line-height:13px;font-size:10.2px;color:#262626;">470</div>
<div class="a" style="left:105.5px;top:930.4px;width:1px;height:23.600000000000023px;background:#e3e6e7;"></div>
<div class="a" style="left:152.2px;top:930.4px;width:1px;height:23.600000000000023px;background:#e3e6e7;"></div>
<div class="a" style="left:193.5px;top:930.4px;width:1px;height:23.600000000000023px;background:#e3e6e7;"></div>
<div class="a" style="left:233.65px;top:930.4px;width:1px;height:23.600000000000023px;background:#e3e6e7;"></div>
<div class="a" style="left:273.8px;top:930.4px;width:1px;height:23.600000000000023px;background:#e3e6e7;"></div>
<div class="a" style="left:313.95px;top:930.4px;width:1px;height:23.600000000000023px;background:#e3e6e7;"></div>
<div class="a" style="left:354.1px;top:930.4px;width:1px;height:23.600000000000023px;background:#e3e6e7;"></div>
<div class="a" style="left:394.25px;top:930.4px;width:1px;height:23.600000000000023px;background:#e3e6e7;"></div>
<div class="a" style="left:434.4px;top:930.4px;width:1px;height:23.600000000000023px;background:#e3e6e7;"></div>
<div class="a" style="left:474.55px;top:930.4px;width:1px;height:23.600000000000023px;background:#e3e6e7;"></div>
<div class="a" style="left:514.7px;top:930.4px;width:1px;height:23.600000000000023px;background:#e3e6e7;"></div>
<div class="a" style="left:554.8499999999999px;top:930.4px;width:1px;height:23.600000000000023px;background:#e3e6e7;"></div>
<div class="a" style="left:595.0px;top:930.4px;width:1px;height:23.600000000000023px;background:#e3e6e7;"></div>
<div class="a" style="left:635.15px;top:930.4px;width:1px;height:23.600000000000023px;background:#e3e6e7;"></div>
<div class="a" style="left:675.3px;top:930.4px;width:1px;height:23.600000000000023px;background:#e3e6e7;"></div>
<div class="a t " style="left:35.65px;top:935.17px;width:70px;height:13px;line-height:13px;font-size:10.2px;color:#262626;">132M</div>
<div class="a t " style="left:94.35px;top:935.17px;width:70px;height:13px;line-height:13px;font-size:10.2px;color:#262626;">2.4.6.8</div>
<div class="a t " style="left:138.35px;top:935.17px;width:70px;height:13px;line-height:13px;font-size:10.2px;color:#262626;">216</div>
<div class="a t " style="left:179.07px;top:935.17px;width:70px;height:13px;line-height:13px;font-size:10.2px;color:#262626;">108</div>
<div class="a t " style="left:219.23px;top:935.17px;width:70px;height:13px;line-height:13px;font-size:10.2px;color:#262626;">178</div>
<div class="a t " style="left:259.38px;top:935.17px;width:70px;height:13px;line-height:13px;font-size:10.2px;color:#262626;">89</div>
<div class="a t " style="left:299.52px;top:935.17px;width:70px;height:13px;line-height:13px;font-size:10.2px;color:#262626;">38</div>
<div class="a t " style="left:339.68px;top:935.17px;width:70px;height:13px;line-height:13px;font-size:10.2px;color:#262626;">80</div>
<div class="a t " style="left:379.82px;top:935.17px;width:70px;height:13px;line-height:13px;font-size:10.2px;color:#262626;">10</div>
<div class="a t " style="left:419.98px;top:935.17px;width:70px;height:13px;line-height:13px;font-size:10.2px;color:#262626;">33</div>
<div class="a t " style="left:460.12px;top:935.17px;width:70px;height:13px;line-height:13px;font-size:10.2px;color:#262626;">132</div>
<div class="a t " style="left:500.27px;top:935.17px;width:70px;height:13px;line-height:13px;font-size:10.2px;color:#262626;">12</div>
<div class="a t " style="left:540.42px;top:935.17px;width:70px;height:13px;line-height:13px;font-size:10.2px;color:#262626;">270</div>
<div class="a t " style="left:580.58px;top:935.17px;width:70px;height:13px;line-height:13px;font-size:10.2px;color:#262626;">275</div>
<div class="a t " style="left:620.72px;top:935.17px;width:70px;height:13px;line-height:13px;font-size:10.2px;color:#262626;">345</div>
<div class="a t " style="left:660.88px;top:935.17px;width:70px;height:13px;line-height:13px;font-size:10.2px;color:#262626;">510</div>
<div class="a" style="left:34.8px;top:744.7px;width:1px;height:209.29999999999995px;background:#dcdfe0;"></div>
<div class="a" style="left:715.4499999999999px;top:744.7px;width:1px;height:209.29999999999995px;background:#dcdfe0;"></div>
<div class="a" style="left:34.8px;top:953.5px;width:681.65px;height:1px;background:#d4d8d9;"></div>
<div class="a" style="left:688.7px;top:968.7px;width:18.5px;height:15.3px;background:#0d8f9b;"></div>
<div class="a" style="left:707.6px;top:968.7px;width:10.4px;height:15.3px;background:#b4dbe3;"></div>
<div class="a t " style="left:682.80px;top:969.57px;width:30px;height:14px;line-height:14px;font-size:10.6px;color:#fff;">10</div>
<svg class="a dg" width="750" height="1016" viewBox="0 0 750 1016" style="left:0;top:0"><path d="M251.0 589.2H332.8Q338.8 589.2 338.8 595.2V644.5Q338.8 651.8 331.3 651.8H316.0M251.4 651.8H250.5Q245.5 651.8 245.5 646.5V594.7Q245.5 589.2 251.0 589.2"/><path d="M259.5 589.2V577.8Q259.5 576.5 260.8 576.5H278.1Q279.4 576.5 279.4 577.8V589.2"/><path d="M255.7 589.5L255.7 651.5"/><path d="M310.8 589.5L310.8 651.5"/><path d="M281.9 585.0L281.9 612.6" class="c"/><path d="M281.9 615.6L281.9 622.4" class="c"/><path d="M281.9 625.8L281.9 654.3" class="c"/><path d="M216.5 618.9L267.3 618.9" class="c"/><path d="M277.1 618.9L285.7 618.9" class="c"/><path d="M294.3 618.9L350.0 618.9" class="c"/><rect x="222.0" y="611.0" width="14.0" height="13.2"/><path d="M222.0 613.5H234.4V611"/><rect x="236.0" y="611.6" width="4.0" height="15.0"/><path d="M240.0 611.6V610Q240.0 609 241.0 609H243.2M240.0 626.6V627.8Q240.0 628.7 241.0 628.7H243.2"/><path d="M243.2 630.6V607H245.5M243.2 630.6H245.5M241.6 609V628.7"/><rect x="251.4" y="648.6" width="64.6" height="5.8"/><path d="M257.9 648.6L257.9 654.4"/><path d="M263.1 648.6L263.1 654.4"/><path d="M260.4 640.3L260.4 667.5"/><path d="M302.7 648.6L302.7 654.4"/><path d="M307.9 648.6L307.9 654.4"/><path d="M305.2 640.3L305.2 667.5"/><path d="M222.0 597.8L222.0 611.0"/><path d="M236.4 597.8L236.4 611.6"/><path d="M222.0 600.6L236.4 600.6"/><path class="f" d="M236.4 600.6L232.4 601.6L232.4 599.6Z"/><path class="f" d="M222.0 600.6L226.0 599.6L226.0 601.6Z"/><text x="229.0" y="597.2" class="se" font-size="9.4" text-anchor="middle">E</text><path d="M236.4 626.6L236.4 667.5"/><path d="M236.4 665.0L260.4 665.0"/><path class="f" d="M260.4 665.0L256.4 666.0L256.4 664.0Z"/><path class="f" d="M236.4 665.0L240.4 664.0L240.4 666.0Z"/><text x="246.3" y="662.8" class="se" font-size="9.4" text-anchor="middle">C</text><path d="M260.4 665.0L305.2 665.0"/><path class="f" d="M305.2 665.0L301.2 666.0L301.2 664.0Z"/><path class="f" d="M260.4 665.0L264.4 664.0L264.4 666.0Z"/><text x="282.8" y="662.8" class="se" font-size="9.4" text-anchor="middle">B</text><path d="M251.4 654.4L251.4 676.0"/><path d="M316.0 654.4L316.0 676.0"/><path d="M251.4 673.5L316.0 673.5"/><path class="f" d="M316.0 673.5L312.0 674.5L312.0 672.5Z"/><path class="f" d="M251.4 673.5L255.4 672.5L255.4 674.5Z"/><text x="282.8" y="672.2" class="se" font-size="9.4" text-anchor="middle">BB</text><path d="M222.0 624.2L222.0 685.0"/><path d="M338.8 646.0L338.8 685.0"/><path d="M222.0 682.3L338.8 682.3"/><path class="f" d="M338.8 682.3L334.8 683.3L334.8 681.2Z"/><path class="f" d="M222.0 682.3L226.0 681.2L226.0 683.3Z"/><text x="283.8" y="680.9" class="se" font-size="9.4" text-anchor="middle">L</text><path d="M411.5 589.2H493.8Q499.8 589.2 499.8 595.2V644.5Q499.8 651.8 492.3 651.8H476.6M412.0 651.8H411.0Q406.0 651.8 406.0 646.5V594.7Q406.0 589.2 411.5 589.2"/><path d="M420.4 589.2V577.8Q420.4 576.5 421.7 576.5H438.7Q440.0 576.5 440.0 577.8V589.2"/><circle cx="453.7" cy="582" r="5.1"/><circle cx="453.7" cy="582" r="2.4"/><path d="M449.2 589.2L450.1 586.6M458.6 589.2L457.5 586.6"/><path d="M416.3 589.5L416.3 651.5"/><path d="M471.0 589.5L471.0 651.5"/><path d="M444.0 585.0L444.0 612.6" class="c"/><path d="M444.0 615.6L444.0 622.4" class="c"/><path d="M444.0 625.8L444.0 654.3" class="c"/><path d="M377.0 618.9L429.4 618.9" class="c"/><path d="M439.2 618.9L447.8 618.9" class="c"/><path d="M456.4 618.9L505.0 618.9" class="c"/><rect x="383.0" y="611.0" width="14.0" height="13.2"/><path d="M383.0 613.5H395.4V611"/><rect x="397.0" y="611.6" width="4.0" height="15.0"/><path d="M401.0 611.6V610Q401.0 609 402.0 609H404.2M401.0 626.6V627.8Q401.0 628.7 402.0 628.7H404.2"/><path d="M404.2 630.6V607H406.0M404.2 630.6H406.0M402.6 609V628.7"/><rect x="412.0" y="648.6" width="64.6" height="5.8"/><path d="M418.9 648.6L418.9 654.4"/><path d="M424.1 648.6L424.1 654.4"/><path d="M421.4 640.3L421.4 667.5"/><path d="M463.3 648.6L463.3 654.4"/><path d="M468.5 648.6L468.5 654.4"/><path d="M465.8 640.3L465.8 667.5"/><path d="M383.0 597.8L383.0 611.0"/><path d="M397.4 597.8L397.4 611.6"/><path d="M383.0 600.6L397.4 600.6"/><path class="f" d="M397.4 600.6L393.4 601.6L393.4 599.6Z"/><path class="f" d="M383.0 600.6L387.0 599.6L387.0 601.6Z"/><text x="390.0" y="597.2" class="se" font-size="9.4" text-anchor="middle">E</text><path d="M397.4 626.6L397.4 667.5"/><path d="M397.4 665.0L421.4 665.0"/><path class="f" d="M421.4 665.0L417.4 666.0L417.4 664.0Z"/><path class="f" d="M397.4 665.0L401.4 664.0L401.4 666.0Z"/><text x="407.3" y="662.8" class="se" font-size="9.4" text-anchor="middle">C</text><path d="M421.4 665.0L465.8 665.0"/><path class="f" d="M465.8 665.0L461.8 666.0L461.8 664.0Z"/><path class="f" d="M421.4 665.0L425.4 664.0L425.4 666.0Z"/><text x="443.6" y="662.8" class="se" font-size="9.4" text-anchor="middle">B</text><path d="M412.0 654.4L412.0 676.0"/><path d="M476.6 654.4L476.6 676.0"/><path d="M412.0 673.5L476.6 673.5"/><path class="f" d="M476.6 673.5L472.6 674.5L472.6 672.5Z"/><path class="f" d="M412.0 673.5L416.0 672.5L416.0 674.5Z"/><text x="443.6" y="672.2" class="se" font-size="9.4" text-anchor="middle">BB</text><path d="M383.0 624.2L383.0 685.0"/><path d="M499.8 646.0L499.8 685.0"/><path d="M383.0 682.3L499.8 682.3"/><path class="f" d="M499.8 682.3L495.8 683.3L495.8 681.2Z"/><path class="f" d="M383.0 682.3L387.0 681.2L387.0 683.3Z"/><text x="444.6" y="680.9" class="se" font-size="9.4" text-anchor="middle">L</text><text transform="translate(245.90 692.6) scale(0.8408 1)" class="sa" font-size="8.8">FRAME</text><text transform="translate(273.85 692.6) scale(0.8408 1)" class="sa" font-size="8.8">SIZE</text><text transform="translate(293.00 692.7) scale(0.9655 1)" class="sa" font-size="9.2">63&#8211;90</text><text transform="translate(397.80 692.6) scale(0.9241 1)" class="sa" font-size="8.8">FRAME</text><text transform="translate(428.52 692.6) scale(0.9241 1)" class="sa" font-size="8.8">SIZE</text><text transform="translate(449.50 692.7) scale(0.9325 1)" class="sa" font-size="9.2">100&#8211;132</text><text transform="translate(613.10 692.5) scale(0.8768 1)" class="sa" font-size="8.8">FRAME</text><text transform="translate(642.25 692.5) scale(0.8768 1)" class="sa" font-size="8.8">SIZE</text><text transform="translate(661.30 692.6) scale(0.9641 1)" class="sa" font-size="9.2">63&#8211;132</text><clipPath id="kc"><circle cx="551.3" cy="618.7" r="10.7"/></clipPath><circle cx="551.3" cy="618.7" r="10.7" stroke-width=".85"/><path clip-path="url(#kc)" d="M519.7 632.7L547.7 604.7M524.1 632.7L552.1 604.7M528.5 632.7L556.5 604.7M532.9 632.7L560.9 604.7M537.3 632.7L565.3 604.7M541.7 632.7L569.7 604.7M546.1 632.7L574.1 604.7M550.5 632.7L578.5 604.7M554.9 632.7L582.9 604.7"/><rect x="549.4" y="606" width="3.9" height="5.8" style="fill:#fff"/><path d="M548.0 606.0L548.0 612.0"/><path d="M555.0 595.0L555.0 608.0"/><path d="M547.5 595.0L547.5 608.0"/><path d="M536.3 598.0L563.5 598.0"/><path class="f" d="M547.5 598.0L543.5 599.0L543.5 597.0Z"/><path class="f" d="M555.0 598.0L559.0 597.0L559.0 599.0Z"/><text x="551.3" y="594.0" class="se" font-size="8.6" text-anchor="middle">F</text><path d="M536.3 593.7L536.3 623.0"/><path class="f" d="M536.3 606.0L535.2 602.0L537.3 602.0Z"/><path class="f" d="M536.3 611.8L537.3 615.8L535.2 615.8Z"/><path d="M533.7 606.0L550.0 606.0"/><path d="M533.7 611.8L549.0 611.8"/><text x="532.4" y="609.7" class="se" font-size="8.6" text-anchor="middle" transform="rotate(-90 532.4 609.7)">GD</text><path d="M534.0 618.7L566.0 618.7" class="d2"/><path d="M551.3 602.0L551.3 633.0" class="d2"/><path d="M553.0 611.8L578.0 611.8"/><path d="M551.0 629.4L578.0 629.4"/><path d="M575.3 611.8L575.3 629.4"/><path class="f" d="M575.3 629.4L574.2 625.4L576.3 625.4Z"/><path class="f" d="M575.3 611.8L576.3 615.8L574.2 615.8Z"/><text x="574.4" y="620.8" class="se" font-size="8.6" text-anchor="middle" transform="rotate(-90 574.4 620.8)">G</text><path d="M540.5 618.7L540.5 644.5"/><path d="M562.0 618.7L562.0 644.5"/><path d="M540.5 642.0L562.0 642.0"/><path class="f" d="M562.0 642.0L558.0 643.0L558.0 641.0Z"/><path class="f" d="M540.5 642.0L544.5 641.0L544.5 643.0Z"/><text x="550.3" y="640.6" class="se" font-size="8.6" text-anchor="middle">D</text><circle cx="646.8" cy="619.1" r="31.3"/><circle cx="646.8" cy="619.1" r="27"/><circle cx="646.8" cy="619.1" r="11.3"/><circle cx="646.8" cy="619.1" r="8.7"/><circle cx="646.8" cy="619.1" r="5.2"/><path d="M640.7 588.6V576.7H654.6V588.6M652 576.7V588.2"/><path d="M606.0 619.1L696.0 619.1" class="d"/><path d="M646.8 575.8L646.8 659.0" class="d"/><path d="M619.6 635.2L614.3 647.7V654.1H629.8V647.7H614.3M629.8 647.7L628 644.5"/><path d="M674 635.2L679.4 647.7V654.1H664V647.7H679.4M664 647.7L665.6 644.5"/><path d="M618.2 647.7L618.2 654.1"/><path d="M622.2 647.7L622.2 654.1"/><path d="M626.0 647.7L626.0 654.1"/><path d="M667.6 647.7L667.6 654.1"/><path d="M671.4 647.7L671.4 654.1"/><path d="M675.4 647.7L675.4 654.1"/><path d="M622.2 640.0L622.2 668.0"/><path d="M671.4 640.0L671.4 668.0"/><path d="M669.3 654.1L669.3 665.0"/><path d="M674.9 654.1L674.9 665.0"/><path d="M615.6 570.6L615.6 619.0"/><path d="M678.3 570.6L678.3 619.0"/><path d="M615.6 573.2L678.3 573.2"/><path class="f" d="M678.3 573.2L674.3 574.2L674.3 572.2Z"/><path class="f" d="M615.6 573.2L619.6 572.2L619.6 574.2Z"/><text x="646.0" y="570.3" class="se" font-size="8.6" text-anchor="middle">AC</text><path d="M654.6 576.7L712.7 576.7"/><path d="M680.0 654.1L712.7 654.1"/><path d="M709.5 576.7L709.5 654.1"/><path class="f" d="M709.5 654.1L708.5 650.1L710.5 650.1Z"/><path class="f" d="M709.5 576.7L710.5 580.7L708.5 580.7Z"/><text x="707.6" y="611.3" class="se" font-size="8.6" text-anchor="middle" transform="rotate(-90 707.6 611.3)">HD</text><path d="M694.5 619.1L694.5 654.1"/><path class="f" d="M694.5 654.1L693.5 650.1L695.5 650.1Z"/><path class="f" d="M694.5 619.1L695.5 623.1L693.5 623.1Z"/><text x="693.5" y="636.5" class="se" font-size="8.6" text-anchor="middle" transform="rotate(-90 693.5 636.5)">H</text><path d="M622.2 665.6L671.4 665.6"/><path class="f" d="M671.4 665.6L667.4 666.6L667.4 664.6Z"/><path class="f" d="M622.2 665.6L626.2 664.6L626.2 666.6Z"/><text x="646.7" y="665.1" class="se" font-size="8.6" text-anchor="middle">A</text><path d="M660.0 662.5L684.0 662.5"/><path class="f" d="M669.3 662.5L665.3 663.5L665.3 661.5Z"/><path class="f" d="M674.9 662.5L678.9 661.5L678.9 663.5Z"/><text x="661.4" y="661.6" class="se" font-size="8.6" text-anchor="middle">K</text><path d="M614.5 654.1L614.5 677.0"/><path d="M679.4 654.1L679.4 677.0"/><path d="M614.5 674.3L679.4 674.3"/><path class="f" d="M679.4 674.3L675.4 675.3L675.4 673.2Z"/><path class="f" d="M614.5 674.3L618.5 673.2L618.5 675.3Z"/><text x="645.6" y="673.9" class="se" font-size="8.6" text-anchor="middle">AB</text></svg></body></html>
